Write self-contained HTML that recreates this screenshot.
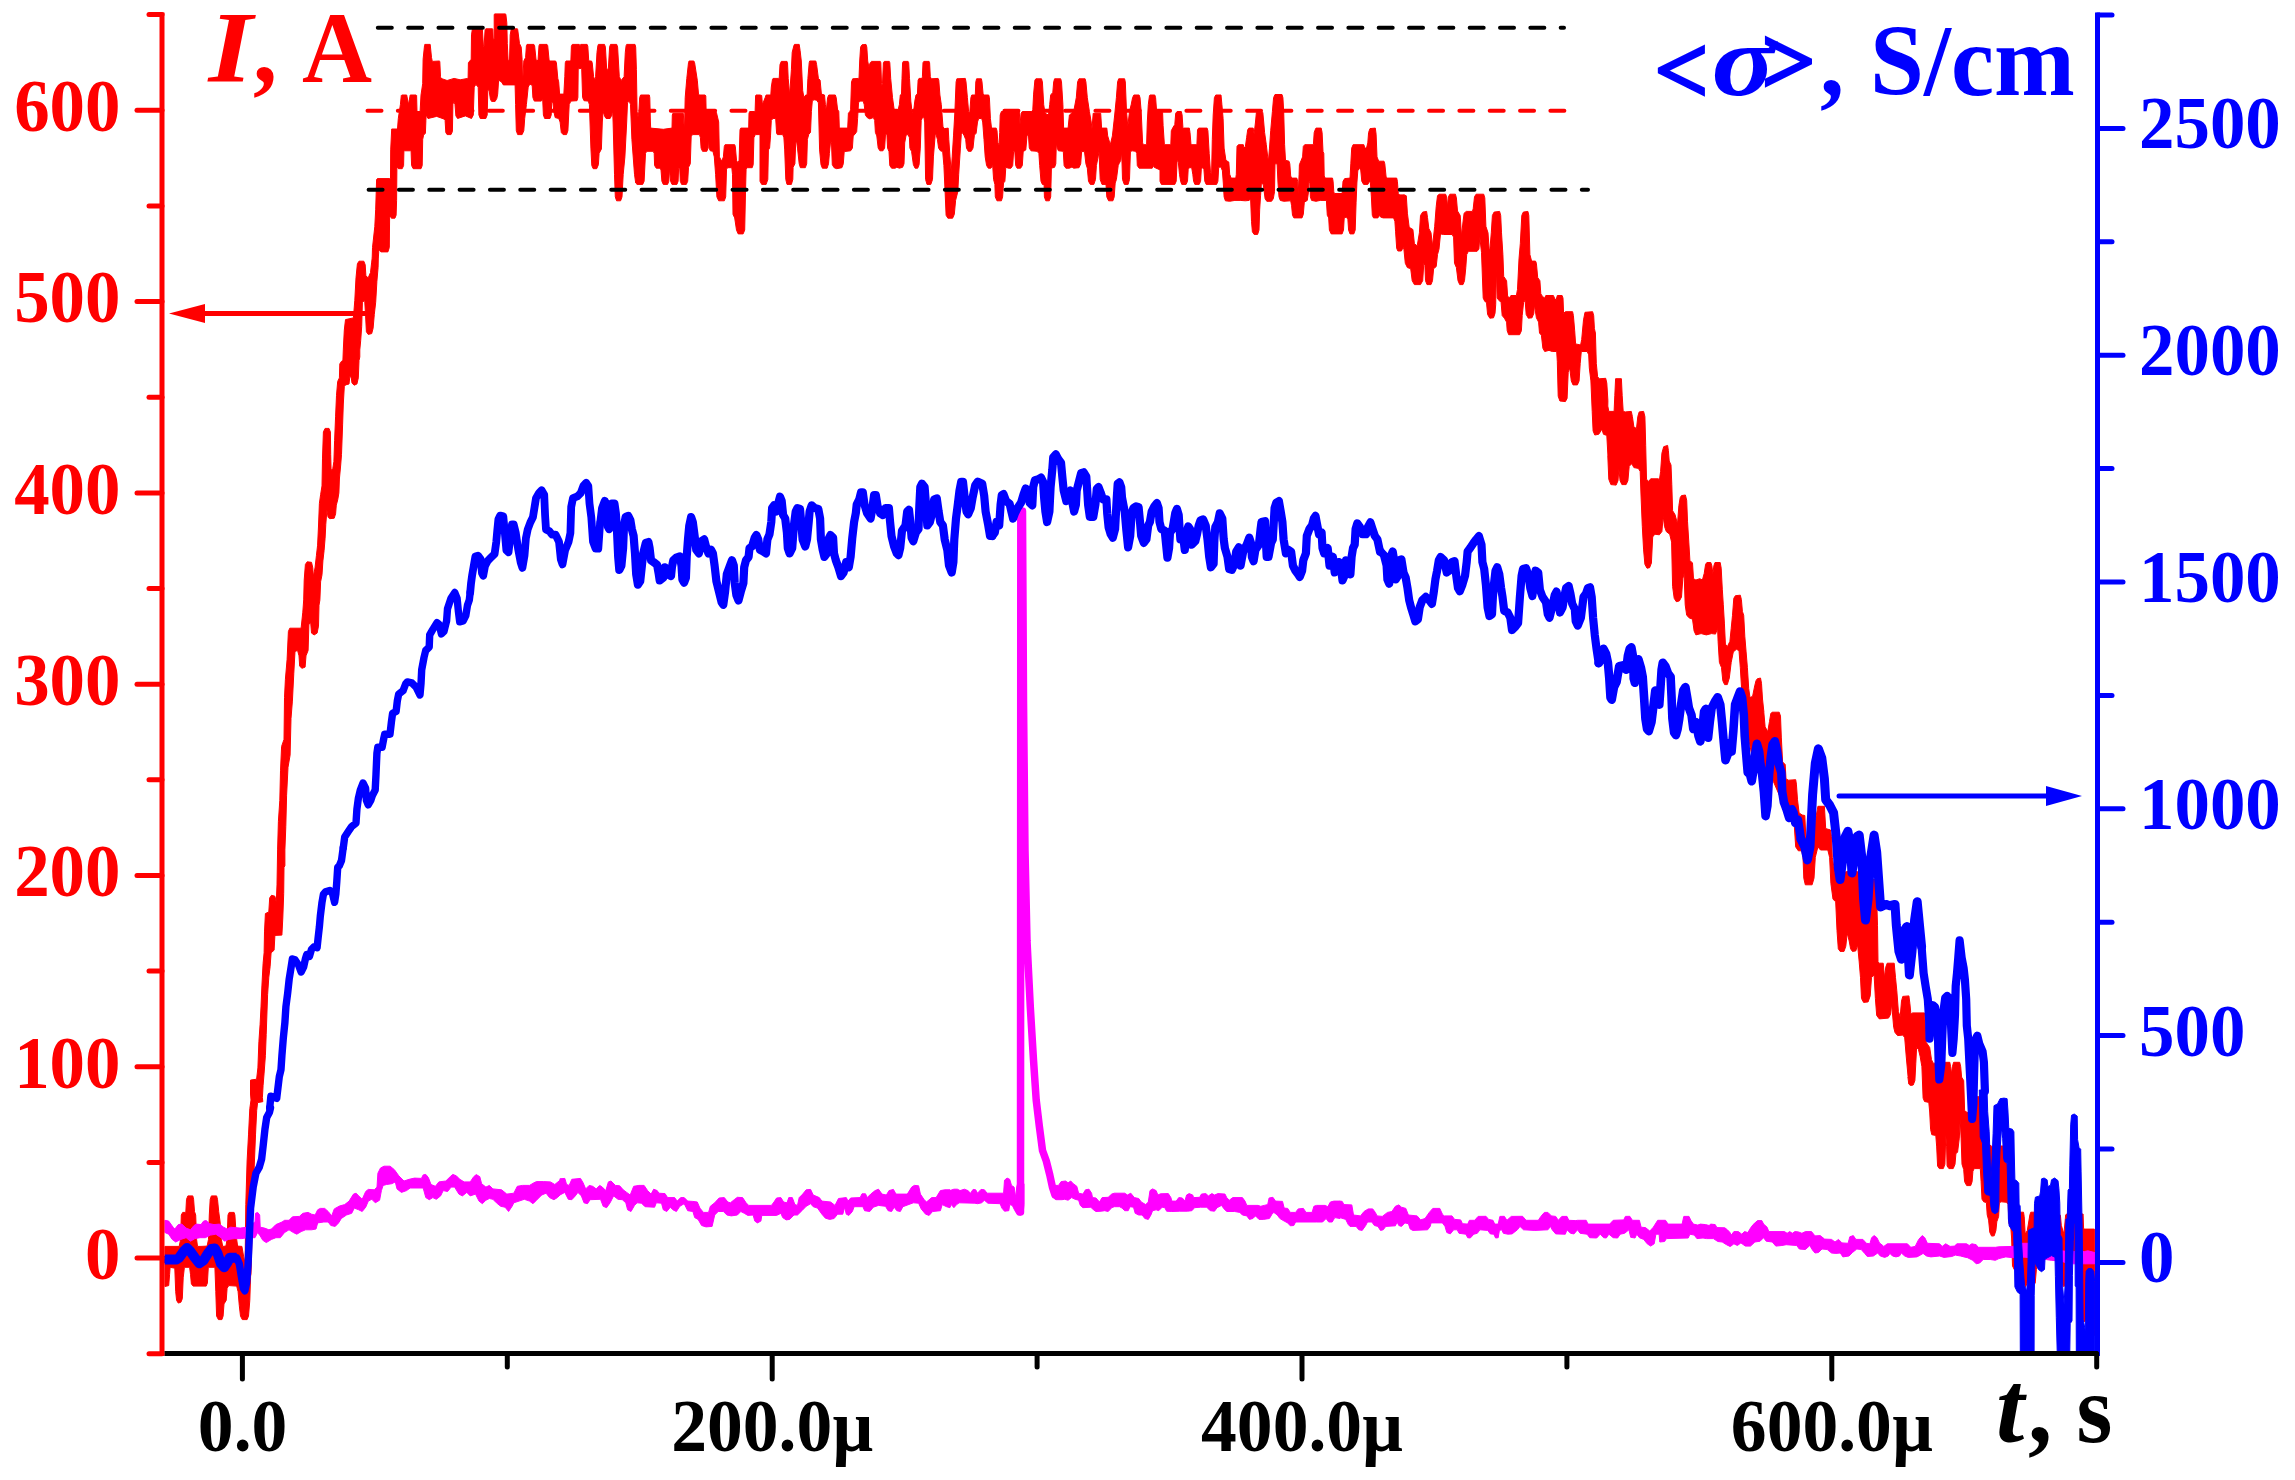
<!DOCTYPE html>
<html><head><meta charset="utf-8"><title>I, A and conductivity vs t</title>
<style>
html,body{margin:0;padding:0;background:#fff;}
svg{display:block}
text{font-family:"Liberation Serif",serif;font-weight:bold;}
.tl{font-size:69.5px}
.big{font-size:97px}
</style></head><body>
<svg width="2295" height="1480" viewBox="0 0 2295 1480">
<rect width="2295" height="1480" fill="#fff"/>
<!-- curves -->
<path d="M164.9 1246.4 L179.2 1246.4 L180.6 1239.4 L181.3 1215.0 L182.7 1212.4 L185.8 1212.4 L186.5 1199.3 L187.9 1195.9 L192.8 1195.9 L193.6 1199.3 L194.5 1211.5 L195.7 1215.0 L196.6 1239.4 L197.5 1246.4 L201.0 1246.4 L207.1 1246.1 L208.5 1239.4 L209.3 1215.0 L210.2 1199.3 L211.4 1195.9 L216.6 1195.9 L217.5 1199.3 L218.7 1211.5 L220.1 1222.0 L221.4 1239.4 L222.7 1246.4 L225.9 1246.1 L227.1 1239.4 L228.0 1215.0 L229.2 1212.4 L234.1 1212.4 L234.9 1215.0 L235.8 1229.0 L236.7 1239.4 L237.6 1246.1 L241.9 1246.4 L243.7 1256.9 L245.1 1263.8 L245.8 1204.6 L247.1 1161.0 L248.5 1134.9 L249.8 1108.7 L251.0 1100.0 L250.5 1094.0 L250.5 1080.1 L256.6 1079.2 L257.9 1067.9 L258.9 1041.7 L260.1 1024.3 L261.0 1006.9 L261.9 985.9 L263.1 963.3 L264.1 952.8 L264.5 931.9 L265.4 913.6 L268.8 911.9 L269.7 897.9 L271.5 895.3 L274.9 896.2 L276.3 902.3 L277.0 884.9 L277.6 850.0 L277.6 849.9 L278.4 821.4 L279.8 800.4 L280.5 770.8 L281.6 746.4 L284.0 739.4 L284.5 697.6 L285.4 679.3 L287.1 659.3 L288.4 631.4 L289.8 628.2 L301.1 628.2 L302.8 612.2 L303.7 600.0 L303.7 599.9 L304.2 580.1 L305.4 564.4 L307.2 561.8 L311.5 562.3 L312.8 567.9 L313.3 576.6 L315.0 567.9 L316.4 555.7 L317.6 545.2 L318.5 526.0 L319.4 503.4 L320.6 494.7 L322.0 485.9 L322.5 458.1 L323.4 431.9 L325.1 428.4 L329.0 428.4 L330.4 431.9 L330.7 454.6 L331.1 470.3 L332.8 468.5 L333.9 461.5 L334.6 440.6 L335.6 416.2 L336.5 395.3 L337.7 381.4 L339.4 377.9 L339.8 363.9 L341.5 361.3 L342.9 360.5 L343.3 350.0 L343.3 349.9 L344.3 330.1 L345.5 319.6 L353.4 317.9 L354.8 300.4 L356.0 277.8 L357.4 263.8 L359.0 261.2 L363.8 261.2 L365.2 264.7 L365.9 276.0 L368.2 277.8 L370.5 272.5 L371.7 262.1 L372.2 257.9 L372.2 258.0 L372.5 247.5 L374.8 226.6 L375.7 209.2 L376.6 179.5 L377.4 178.6 L389.6 178.6 L390.5 178.6 L390.7 149.9 L391.7 129.0 L397.5 129.0 L398.3 118.5 L400.4 104.6 L401.3 95.5 L401.8 95.0 L406.7 95.0 L408.5 104.6 L410.2 95.0 L416.1 95.0 L416.6 95.5 L417.0 111.5 L420.1 111.5 L421.0 95.0 L422.7 83.7 L423.1 59.3 L424.5 45.7 L424.8 44.4 L430.2 44.4 L431.5 57.5 L432.3 61.4 L439.3 61.0 L439.8 61.4 L440.5 76.7 L441.0 78.4 L447.1 80.5 L454.1 78.4 L460.2 79.8 L467.7 78.4 L468.1 78.1 L468.4 62.7 L469.8 61.0 L471.2 59.3 L471.5 34.9 L472.4 28.8 L482.0 28.8 L482.4 29.6 L483.4 46.2 L484.1 46.2 L485.1 29.6 L485.8 28.8 L492.5 28.8 L492.8 29.3 L493.2 39.2 L494.2 38.7 L494.2 14.8 L494.6 13.9 L505.5 13.9 L505.9 14.8 L506.8 22.7 L507.3 43.6 L508.1 60.1 L509.5 61.0 L510.2 34.9 L511.3 28.8 L517.4 28.8 L517.7 29.6 L519.5 43.6 L521.2 47.1 L522.1 59.3 L522.6 83.7 L523.8 61.0 L525.6 57.5 L526.4 45.7 L527.0 44.4 L533.9 44.4 L534.6 45.7 L536.0 59.3 L537.3 61.0 L538.1 59.3 L539.0 45.7 L539.5 44.4 L547.0 44.4 L547.7 45.7 L549.1 60.1 L549.6 61.0 L555.6 61.0 L556.4 62.7 L557.8 78.4 L558.7 81.9 L559.6 94.1 L560.1 94.1 L563.6 94.1 L563.9 93.2 L564.8 76.7 L565.3 62.7 L566.0 61.0 L570.5 61.0 L570.9 60.1 L571.4 46.2 L572.3 44.4 L579.3 44.4 L580.0 45.7 L580.7 44.4 L587.1 44.4 L587.8 46.2 L588.7 60.1 L589.0 61.0 L591.5 61.0 L592.2 62.7 L593.6 76.7 L594.9 80.2 L595.6 76.7 L597.0 52.3 L597.9 45.7 L598.4 44.4 L604.5 44.4 L605.4 47.1 L606.6 68.0 L607.5 70.6 L608.4 68.0 L609.6 47.1 L610.5 44.4 L616.7 44.4 L617.6 47.1 L619.3 76.7 L621.1 80.5 L624.1 76.7 L625.3 52.3 L626.1 45.7 L626.7 44.4 L635.0 44.4 L635.7 47.1 L636.4 69.7 L637.1 111.5 L638.0 117.1 L638.9 111.5 L639.7 97.6 L640.6 95.0 L649.3 95.0 L649.8 97.6 L650.4 122.0 L650.7 128.1 L663.3 129.3 L672.0 128.1 L672.3 115.0 L672.9 113.3 L683.3 113.3 L684.2 128.1 L684.5 128.1 L685.2 97.6 L686.8 78.4 L688.5 62.7 L689.1 61.0 L693.8 61.0 L694.6 62.7 L697.3 80.2 L698.5 94.1 L699.0 95.0 L705.1 95.0 L705.8 95.9 L706.1 109.8 L706.5 111.5 L715.6 111.5 L716.4 112.4 L718.7 122.0 L719.4 156.9 L721.7 161.2 L723.4 156.9 L724.3 146.4 L725.1 144.7 L734.7 144.7 L735.3 146.4 L736.5 160.3 L737.9 163.0 L739.1 160.3 L740.0 129.8 L740.8 128.1 L748.3 128.1 L748.7 128.1 L749.0 113.3 L749.7 111.5 L754.8 111.5 L755.1 111.5 L755.6 95.9 L756.0 95.0 L760.0 95.0 L760.0 95.0 L761.7 95.5 L762.4 104.6 L765.2 97.6 L766.1 95.0 L770.8 95.0 L771.3 87.1 L772.5 79.3 L773.1 78.4 L778.3 78.4 L779.2 78.4 L780.0 64.5 L781.3 61.4 L787.0 61.4 L787.5 62.7 L788.2 78.4 L789.6 95.0 L791.4 69.7 L792.2 52.3 L794.0 45.3 L794.5 44.4 L799.2 44.4 L800.1 50.5 L801.3 61.0 L802.7 90.6 L803.9 97.6 L805.7 95.0 L807.1 95.0 L807.9 78.4 L809.2 62.7 L809.7 61.0 L815.8 61.0 L816.6 64.5 L818.4 78.4 L820.1 80.2 L821.4 94.1 L824.5 95.0 L825.4 104.6 L826.2 111.5 L827.6 97.6 L828.8 95.0 L835.3 95.0 L836.2 97.6 L837.6 109.8 L838.8 111.5 L839.3 128.1 L847.1 128.1 L847.7 128.1 L848.4 113.3 L849.8 111.5 L850.6 109.8 L851.5 81.9 L852.7 78.8 L858.5 78.4 L859.0 78.4 L859.7 61.0 L860.6 47.1 L862.0 44.8 L866.0 44.4 L866.8 47.1 L867.7 61.0 L868.9 67.1 L870.2 62.7 L871.5 61.4 L880.3 61.4 L880.8 62.7 L881.5 83.7 L882.0 85.4 L882.5 83.7 L883.4 62.7 L884.3 61.4 L889.3 61.4 L889.8 62.7 L890.7 78.4 L892.5 97.6 L894.2 109.8 L897.7 111.5 L899.4 104.6 L900.3 95.0 L901.5 94.1 L902.0 78.4 L902.6 62.7 L903.3 61.4 L908.1 61.4 L908.7 62.7 L909.5 78.4 L910.8 101.1 L912.0 111.5 L913.4 113.3 L914.8 101.1 L916.0 95.0 L917.4 94.1 L918.1 80.2 L919.0 78.4 L922.1 78.4 L922.4 76.7 L923.0 62.7 L923.8 61.4 L929.1 61.4 L929.6 62.7 L930.3 76.7 L931.2 78.8 L938.1 78.4 L938.8 80.2 L939.9 95.0 L941.3 104.6 L943.0 127.2 L944.7 128.6 L948.2 128.1 L948.8 139.4 L950.0 156.9 L951.2 171.7 L952.2 156.9 L953.5 135.9 L954.9 111.5 L956.1 81.9 L956.9 78.8 L965.3 78.4 L966.0 81.9 L967.4 97.6 L968.6 111.5 L969.7 113.3 L970.9 97.6 L971.8 95.0 L975.3 95.0 L975.8 81.9 L976.6 78.8 L981.4 78.8 L982.0 81.9 L983.1 94.1 L984.0 95.0 L988.7 95.0 L989.4 97.6 L990.4 118.5 L991.5 128.1 L996.2 128.1 L997.0 130.7 L997.9 142.9 L999.1 144.7 L999.7 132.5 L1000.2 115.0 L1001.4 111.5 L1019.3 111.5 L1020.0 124.6 L1021.1 113.3 L1022.3 111.5 L1031.9 111.5 L1032.8 109.8 L1033.6 94.1 L1034.9 80.2 L1035.9 78.8 L1041.5 78.8 L1042.4 81.9 L1043.7 104.6 L1045.0 113.3 L1048.5 115.0 L1049.7 104.6 L1050.7 95.0 L1052.8 92.4 L1053.7 81.9 L1054.6 78.8 L1060.7 78.8 L1061.5 81.9 L1062.9 104.6 L1063.6 128.1 L1068.1 128.1 L1069.4 115.0 L1073.7 111.5 L1076.3 97.6 L1077.6 81.9 L1079.0 78.8 L1085.1 78.8 L1085.9 81.9 L1087.3 97.6 L1089.4 111.5 L1091.2 122.0 L1092.0 129.0 L1093.2 113.3 L1100.7 113.3 L1101.6 128.1 L1106.8 128.1 L1107.7 135.9 L1110.3 144.7 L1112.4 135.9 L1114.7 115.0 L1116.4 97.6 L1117.6 81.9 L1118.7 78.8 L1124.6 78.8 L1125.3 81.9 L1126.5 111.5 L1127.8 126.4 L1129.5 111.5 L1131.2 104.6 L1132.6 97.6 L1133.9 95.0 L1139.1 95.0 L1140.0 97.6 L1141.2 111.5 L1142.6 142.9 L1143.4 144.7 L1146.6 144.7 L1147.3 122.0 L1148.3 104.6 L1149.5 95.5 L1150.1 95.0 L1154.8 95.0 L1155.6 97.6 L1156.5 109.8 L1160.0 110.7 L1160.0 111.5 L1162.6 112.4 L1163.1 125.5 L1164.4 144.7 L1170.8 144.7 L1171.3 130.7 L1173.1 127.2 L1174.8 124.6 L1175.7 113.3 L1177.1 111.5 L1181.3 111.5 L1182.1 115.0 L1183.0 129.0 L1183.5 128.1 L1189.3 128.1 L1190.0 132.5 L1191.0 144.7 L1196.9 144.7 L1197.5 129.8 L1198.7 128.1 L1207.1 128.1 L1207.9 130.7 L1209.2 153.4 L1210.5 172.5 L1211.6 173.4 L1212.3 139.4 L1213.2 115.0 L1214.4 97.6 L1215.8 95.0 L1221.0 95.0 L1221.9 104.6 L1223.1 118.5 L1224.1 148.1 L1225.9 160.3 L1228.8 162.1 L1229.7 174.3 L1231.1 178.1 L1235.8 178.1 L1236.3 174.3 L1237.0 146.4 L1238.4 144.7 L1243.3 144.7 L1244.0 148.1 L1245.4 146.4 L1246.6 137.7 L1247.7 129.8 L1248.9 128.1 L1253.2 128.1 L1254.1 134.2 L1255.5 122.0 L1256.4 112.4 L1262.8 112.4 L1263.7 122.0 L1264.6 132.5 L1266.3 144.7 L1267.7 156.9 L1268.4 161.2 L1269.5 148.1 L1270.7 130.7 L1272.4 111.5 L1273.6 97.6 L1275.0 94.5 L1282.0 94.5 L1282.9 97.6 L1283.7 111.5 L1284.6 144.7 L1285.5 160.3 L1289.0 161.2 L1289.8 163.8 L1290.7 176.0 L1291.6 178.1 L1296.8 178.1 L1297.7 181.3 L1298.2 194.3 L1299.1 174.3 L1299.4 164.7 L1301.2 160.3 L1302.6 156.9 L1303.3 146.4 L1304.7 144.7 L1313.4 144.7 L1314.2 132.5 L1315.5 129.0 L1316.0 128.1 L1321.2 128.1 L1322.1 132.5 L1323.0 151.6 L1323.8 153.4 L1324.2 176.0 L1325.2 178.1 L1332.5 178.1 L1333.1 181.3 L1333.8 191.7 L1334.3 193.5 L1342.1 193.5 L1343.0 181.3 L1344.7 178.6 L1350.0 178.1 L1350.8 163.8 L1351.7 148.1 L1353.1 144.7 L1363.9 144.7 L1364.8 148.1 L1366.5 148.1 L1367.8 142.9 L1368.6 132.5 L1370.0 128.6 L1375.3 128.1 L1376.1 134.2 L1377.0 156.9 L1378.7 161.2 L1384.0 161.2 L1384.8 163.8 L1386.1 176.9 L1387.5 178.1 L1396.7 178.1 L1397.4 181.3 L1398.3 193.5 L1399.7 194.9 L1404.0 194.9 L1403.9 194.7 L1406.3 195.8 L1407.4 213.2 L1409.2 227.3 L1412.9 229.5 L1414.4 243.7 L1417.2 245.9 L1419.4 232.8 L1420.5 215.4 L1422.7 212.1 L1426.6 211.4 L1427.5 217.5 L1428.8 228.4 L1431.0 232.8 L1432.5 245.9 L1434.7 226.3 L1436.2 206.6 L1437.5 195.8 L1439.0 194.2 L1445.6 194.2 L1446.6 196.8 L1447.5 206.6 L1448.4 196.8 L1449.9 194.2 L1455.4 194.2 L1456.4 197.9 L1457.5 211.0 L1460.2 215.4 L1461.5 236.1 L1463.0 221.9 L1464.1 213.2 L1466.3 211.4 L1472.4 211.4 L1473.2 208.8 L1474.5 196.8 L1476.1 194.2 L1483.7 194.2 L1484.8 197.9 L1485.9 226.3 L1488.0 232.8 L1489.1 249.1 L1489.8 250.2 L1491.3 232.8 L1492.4 215.4 L1494.1 212.1 L1499.6 211.4 L1500.7 215.4 L1501.5 232.8 L1502.9 254.6 L1503.7 276.4 L1506.6 280.7 L1507.6 296.0 L1509.4 298.1 L1510.9 295.5 L1516.4 295.5 L1517.5 289.4 L1519.0 258.9 L1520.3 243.7 L1521.8 215.4 L1523.3 212.1 L1527.9 211.4 L1528.8 215.4 L1529.9 254.6 L1531.6 261.1 L1535.5 261.1 L1536.4 263.3 L1537.7 277.5 L1539.9 280.7 L1540.8 293.8 L1542.5 296.4 L1544.7 298.1 L1545.8 295.5 L1553.4 295.5 L1554.5 298.1 L1556.0 300.3 L1557.3 295.5 L1562.1 295.5 L1563.0 298.1 L1563.6 313.4 L1565.4 311.7 L1572.6 311.7 L1573.4 315.6 L1574.7 330.8 L1575.6 343.9 L1580.6 345.0 L1581.7 339.5 L1583.5 319.9 L1585.0 312.3 L1592.6 311.7 L1593.7 315.6 L1594.4 328.6 L1595.4 333.0 L1596.3 363.5 L1597.6 376.6 L1599.2 378.8 L1605.7 378.3 L1606.8 383.1 L1607.9 400.5 L1607.8 406.1 L1608.8 411.4 L1614.1 411.4 L1614.8 395.7 L1615.6 378.7 L1621.4 378.7 L1622.2 395.7 L1623.2 411.4 L1625.3 411.9 L1631.3 411.4 L1632.4 416.6 L1633.9 427.1 L1636.5 428.4 L1637.8 416.6 L1639.2 411.9 L1643.6 411.4 L1644.9 416.6 L1645.7 445.4 L1646.5 479.3 L1648.8 481.4 L1650.7 478.8 L1658.5 478.8 L1659.3 480.7 L1660.6 471.5 L1661.9 453.2 L1663.7 446.7 L1667.6 445.4 L1668.4 450.6 L1669.2 461.0 L1671.0 465.0 L1671.8 484.6 L1672.6 510.7 L1675.0 514.6 L1676.8 521.2 L1677.6 522.5 L1678.9 505.5 L1680.2 497.6 L1681.5 495.6 L1685.4 495.0 L1686.7 500.3 L1687.5 521.2 L1688.8 542.1 L1689.9 560.4 L1692.5 563.0 L1693.5 578.7 L1695.9 580.0 L1699.8 578.7 L1702.4 580.0 L1704.2 573.5 L1705.6 564.3 L1706.9 562.5 L1710.8 562.5 L1711.8 565.6 L1712.9 573.5 L1713.9 565.6 L1715.0 562.5 L1720.2 562.5 L1721.2 568.2 L1722.3 589.2 L1723.3 604.8 L1724.4 623.1 L1725.4 644.1 L1727.3 646.7 L1729.9 641.4 L1731.2 628.4 L1732.5 615.3 L1733.8 598.3 L1735.4 595.7 L1740.3 595.2 L1741.4 599.6 L1742.4 611.4 L1743.7 615.3 L1744.8 636.2 L1746.1 651.9 L1747.4 667.6 L1748.7 688.5 L1750.0 697.6 L1752.6 696.3 L1754.7 685.9 L1756.0 680.7 L1757.3 678.8 L1760.5 678.0 L1761.5 683.3 L1762.5 699.0 L1763.9 712.0 L1763.8 712.0 L1765.1 726.6 L1767.7 731.8 L1769.5 721.4 L1770.8 713.5 L1772.1 712.2 L1779.2 712.2 L1780.5 716.1 L1781.3 737.1 L1782.6 761.9 L1785.2 764.5 L1786.0 778.9 L1788.6 780.2 L1795.7 779.7 L1796.4 784.1 L1797.5 799.8 L1799.1 812.9 L1802.2 815.0 L1804.8 815.5 L1805.8 836.4 L1807.4 846.9 L1812.6 846.9 L1815.3 820.7 L1817.9 806.3 L1824.4 806.3 L1825.7 828.6 L1830.4 829.9 L1831.5 836.4 L1832.3 857.3 L1834.9 873.0 L1841.4 873.0 L1851.9 870.4 L1862.3 873.0 L1867.5 880.8 L1870.7 879.5 L1875.4 879.5 L1876.7 899.2 L1877.5 925.3 L1878.0 961.9 L1879.3 963.2 L1883.2 963.2 L1884.5 977.6 L1885.8 967.1 L1887.2 963.2 L1894.2 963.2 L1895.5 977.6 L1896.8 990.7 L1898.4 1011.6 L1900.2 1016.8 L1901.5 1001.1 L1902.8 996.4 L1908.9 995.9 L1909.9 1003.7 L1910.9 1014.2 L1912.5 1012.9 L1924.5 1012.9 L1925.6 1029.9 L1925.5 1029.9 L1926.2 1042.3 L1929.7 1047.5 L1931.5 1059.7 L1933.2 1063.2 L1943.7 1063.2 L1944.5 1062.3 L1949.8 1062.3 L1950.6 1066.7 L1951.5 1073.7 L1952.4 1066.7 L1953.6 1062.3 L1959.7 1062.3 L1960.7 1066.7 L1961.6 1077.1 L1963.7 1080.6 L1964.6 1110.3 L1966.3 1112.0 L1968.9 1112.9 L1973.3 1112.0 L1975.0 1103.3 L1977.1 1096.7 L1980.3 1096.7 L1980.8 1112.0 L1981.5 1138.1 L1982.9 1139.9 L1992.5 1146.9 L1999.4 1146.9 L2000.3 1146.0 L2003.3 1146.0 L2004.1 1153.8 L2005.5 1162.5 L2007.3 1164.3 L2008.1 1181.7 L2009.9 1199.2 L2016.9 1213.1 L2020.3 1212.2 L2023.5 1212.2 L2024.2 1216.6 L2025.2 1234.0 L2027.3 1230.5 L2029.9 1214.8 L2030.8 1212.2 L2034.3 1212.2 L2036.0 1214.8 L2058.7 1214.8 L2060.4 1215.2 L2061.3 1225.3 L2063.9 1234.0 L2065.7 1214.8 L2068.3 1213.1 L2069.2 1216.6 L2079.6 1216.6 L2080.5 1214.0 L2083.1 1214.0 L2083.6 1228.8 L2084.8 1229.1 L2094.4 1229.1 L2094.4 1335.6 L2093.6 1335.6 L2091.8 1330.4 L2090.1 1286.8 L2088.3 1269.4 L2086.9 1286.8 L2086.2 1318.2 L2084.5 1321.7 L2082.7 1318.2 L2081.4 1286.8 L2079.6 1258.9 L2069.2 1258.9 L2066.5 1262.4 L2065.7 1283.3 L2063.9 1286.8 L2062.2 1283.3 L2060.4 1262.4 L2051.7 1258.9 L2037.8 1258.9 L2036.4 1269.4 L2035.2 1283.3 L2033.4 1281.6 L2031.7 1265.9 L2028.2 1265.9 L2027.0 1283.3 L2025.6 1286.8 L2023.8 1283.3 L2022.1 1252.0 L2016.9 1252.0 L2016.0 1265.9 L2014.2 1269.4 L2012.5 1265.9 L2011.6 1238.0 L2010.8 1227.0 L2009.0 1223.6 L2008.1 1204.4 L2006.4 1202.3 L2001.5 1201.8 L1999.4 1202.6 L1998.6 1216.6 L1996.8 1221.8 L1995.9 1230.5 L1994.2 1235.8 L1991.6 1236.1 L1989.8 1232.3 L1988.6 1220.1 L1987.2 1214.8 L1986.4 1202.6 L1983.7 1201.8 L1982.0 1199.2 L1981.1 1181.7 L1980.3 1168.6 L1974.2 1168.6 L1972.9 1171.3 L1972.1 1181.7 L1970.7 1185.6 L1966.7 1185.6 L1964.6 1181.7 L1963.7 1169.5 L1962.0 1164.3 L1961.1 1138.1 L1960.2 1119.0 L1959.3 1138.1 L1957.6 1152.1 L1955.9 1153.8 L1955.0 1164.3 L1953.2 1168.6 L1948.9 1168.6 L1947.1 1166.0 L1946.6 1146.9 L1945.8 1134.7 L1944.9 1164.3 L1943.3 1168.6 L1939.3 1168.6 L1937.6 1166.0 L1936.7 1146.9 L1935.8 1135.5 L1931.8 1134.7 L1930.6 1129.4 L1929.7 1112.0 L1928.8 1102.4 L1924.5 1101.5 L1923.1 1098.1 L1921.9 1066.7 L1920.1 1056.2 L1918.4 1049.3 L1916.6 1047.5 L1915.8 1063.2 L1914.9 1080.6 L1913.2 1085.0 L1910.5 1085.5 L1908.8 1084.1 L1907.9 1077.0 L1908.1 1076.9 L1906.2 1056.0 L1904.7 1037.7 L1902.8 1035.1 L1897.6 1035.6 L1895.0 1032.5 L1893.7 1027.3 L1891.6 1003.7 L1890.6 1014.2 L1888.5 1018.1 L1879.3 1018.9 L1876.7 1015.5 L1875.4 998.5 L1874.1 975.0 L1871.5 977.6 L1870.2 995.9 L1868.1 1001.9 L1863.6 1002.4 L1861.5 998.5 L1860.5 977.6 L1859.2 961.9 L1857.6 944.9 L1855.8 950.9 L1852.4 951.4 L1850.6 948.8 L1849.2 941.0 L1847.2 933.1 L1845.8 946.2 L1844.0 951.4 L1840.1 951.4 L1838.3 948.8 L1837.0 930.5 L1835.7 901.8 L1833.0 899.2 L1830.9 883.5 L1829.6 857.3 L1827.8 850.0 L1820.5 850.0 L1817.9 846.9 L1815.3 857.3 L1814.0 878.2 L1812.1 884.8 L1805.3 884.8 L1803.8 878.2 L1803.0 857.3 L1801.7 850.8 L1798.3 850.8 L1795.7 846.9 L1794.3 825.9 L1791.7 818.1 L1787.0 816.8 L1785.2 815.5 L1781.3 799.8 L1773.4 781.5 L1766.9 776.3 L1763.0 768.4 L1755.9 766.9 L1756.0 766.9 L1752.1 756.5 L1750.0 746.0 L1748.2 735.6 L1746.1 719.9 L1744.2 706.8 L1741.6 688.5 L1740.3 667.6 L1739.0 650.6 L1736.4 649.3 L1733.3 651.9 L1731.2 662.4 L1729.3 678.0 L1727.3 684.6 L1724.6 684.6 L1722.8 680.7 L1721.5 667.6 L1719.4 662.4 L1718.1 641.4 L1717.6 628.4 L1715.5 634.1 L1711.6 633.6 L1706.3 634.9 L1701.1 633.6 L1695.9 634.9 L1694.1 631.0 L1692.5 619.2 L1689.3 617.9 L1686.7 615.3 L1685.2 604.8 L1684.1 573.5 L1682.8 578.7 L1681.5 597.0 L1679.4 600.9 L1676.3 601.7 L1674.2 598.3 L1672.6 586.5 L1671.6 542.1 L1669.7 534.2 L1666.3 531.6 L1664.5 526.4 L1663.2 515.9 L1661.9 531.6 L1659.3 534.8 L1654.8 534.2 L1652.7 536.9 L1651.4 563.0 L1649.6 567.7 L1647.0 568.2 L1644.9 564.3 L1643.6 549.9 L1642.3 526.4 L1641.0 495.0 L1640.2 471.5 L1638.4 468.4 L1633.9 467.6 L1631.8 463.7 L1629.2 466.3 L1627.9 480.7 L1626.1 484.6 L1621.9 484.6 L1620.1 480.7 L1618.8 468.9 L1618.0 480.7 L1616.1 485.1 L1610.9 484.6 L1608.8 479.3 L1607.8 455.8 L1607.9 455.0 L1606.8 435.4 L1603.5 434.3 L1601.8 428.9 L1600.9 431.0 L1598.7 434.3 L1594.8 435.0 L1593.1 431.0 L1592.2 411.4 L1590.9 380.9 L1589.3 367.9 L1588.7 354.8 L1587.2 351.5 L1581.3 351.5 L1580.2 363.5 L1579.1 380.9 L1577.4 384.9 L1573.0 384.9 L1571.3 380.9 L1569.7 367.9 L1568.2 372.2 L1567.1 398.4 L1565.4 401.6 L1559.9 401.0 L1558.2 396.2 L1557.3 361.3 L1556.7 351.5 L1552.3 351.5 L1549.0 350.4 L1544.7 351.5 L1542.9 348.3 L1541.4 335.2 L1539.5 333.0 L1538.6 322.1 L1536.4 317.8 L1534.4 304.7 L1533.8 313.4 L1532.0 317.8 L1528.3 318.2 L1526.2 314.5 L1525.1 300.3 L1523.6 302.5 L1522.2 315.6 L1521.4 330.8 L1519.6 334.7 L1508.7 334.7 L1507.2 330.8 L1506.6 322.1 L1504.4 318.2 L1502.2 315.6 L1501.1 302.5 L1498.9 300.3 L1497.2 298.1 L1496.3 267.6 L1495.7 304.7 L1495.0 313.4 L1493.5 317.8 L1489.8 318.2 L1487.6 314.5 L1486.5 302.5 L1484.8 301.4 L1483.2 298.1 L1481.5 252.4 L1479.8 237.1 L1478.9 249.1 L1477.1 251.3 L1468.4 251.3 L1466.7 254.6 L1465.8 267.6 L1464.5 280.7 L1463.0 284.6 L1459.7 284.6 L1458.0 280.7 L1456.4 267.6 L1454.5 263.3 L1453.6 237.1 L1452.1 234.5 L1443.4 234.5 L1440.5 233.9 L1439.0 249.1 L1437.5 254.6 L1436.2 266.6 L1433.6 268.7 L1432.5 280.7 L1431.0 284.6 L1427.0 284.6 L1425.5 280.7 L1424.9 265.5 L1423.8 263.3 L1422.7 280.7 L1420.5 284.6 L1414.4 284.6 L1412.2 280.7 L1410.7 268.7 L1407.4 267.6 L1405.3 263.3 L1403.9 249.1 L1404.0 249.2 L1403.1 247.5 L1401.4 251.0 L1397.9 251.0 L1396.7 248.4 L1395.6 231.8 L1394.9 221.4 L1393.6 217.9 L1383.1 217.9 L1380.5 217.0 L1379.3 215.3 L1377.9 217.9 L1373.5 217.9 L1372.3 215.3 L1371.4 196.9 L1370.4 183.0 L1369.5 181.3 L1367.8 184.4 L1363.6 184.4 L1361.8 181.3 L1360.8 170.8 L1359.6 167.7 L1357.8 170.8 L1356.9 183.0 L1356.1 202.2 L1355.2 230.1 L1353.8 233.9 L1350.0 233.9 L1348.6 230.1 L1347.9 219.6 L1346.5 217.0 L1344.2 217.9 L1343.5 230.1 L1342.1 233.9 L1331.2 233.9 L1329.4 230.1 L1328.7 217.9 L1327.3 215.3 L1326.4 200.4 L1320.3 200.4 L1316.0 201.3 L1311.6 200.4 L1310.4 196.9 L1309.9 183.0 L1309.0 181.3 L1308.5 191.7 L1307.3 200.4 L1304.3 202.2 L1303.3 214.4 L1302.0 217.9 L1293.9 217.9 L1292.5 215.3 L1291.6 205.7 L1290.7 200.8 L1283.7 201.3 L1280.3 200.4 L1279.0 196.9 L1278.0 183.0 L1277.1 163.8 L1275.0 163.8 L1274.5 191.7 L1273.3 198.7 L1271.5 201.3 L1266.8 201.3 L1265.1 198.7 L1264.2 191.7 L1263.2 184.4 L1261.4 183.0 L1260.6 195.2 L1259.7 209.2 L1259.0 230.1 L1257.6 234.4 L1254.1 234.4 L1252.4 231.8 L1251.5 221.4 L1250.6 198.7 L1249.2 200.4 L1245.4 200.8 L1240.2 200.4 L1234.9 200.4 L1229.7 201.3 L1225.4 200.8 L1224.1 196.9 L1223.3 183.0 L1222.4 170.8 L1221.0 167.0 L1218.7 167.3 L1217.9 181.3 L1216.6 184.4 L1206.2 184.4 L1204.8 181.3 L1203.9 169.1 L1202.7 167.7 L1201.3 169.1 L1200.6 181.3 L1199.2 184.4 L1194.9 184.4 L1193.6 181.3 L1192.8 174.3 L1191.7 167.7 L1189.6 167.7 L1188.2 169.1 L1187.5 181.3 L1186.1 184.4 L1181.8 184.4 L1180.6 181.3 L1179.5 174.3 L1178.3 162.1 L1177.1 160.3 L1176.2 181.3 L1174.8 184.4 L1161.4 184.4 L1160.0 181.3 L1160.0 169.9 L1154.2 167.3 L1153.6 165.6 L1152.2 168.2 L1139.1 168.2 L1137.3 165.6 L1136.8 153.4 L1135.6 151.3 L1132.1 150.8 L1130.4 151.6 L1129.5 179.5 L1128.1 184.4 L1124.3 184.4 L1122.5 179.5 L1121.7 151.6 L1120.8 160.3 L1119.0 163.8 L1118.2 165.6 L1116.4 179.5 L1115.2 183.0 L1114.2 196.9 L1112.9 200.8 L1108.6 200.8 L1106.8 196.9 L1106.0 184.4 L1102.0 184.4 L1100.2 179.5 L1099.0 151.6 L1098.1 156.9 L1096.4 165.6 L1095.5 179.5 L1093.8 184.4 L1090.3 184.4 L1088.5 181.3 L1087.3 168.2 L1085.9 163.8 L1084.5 151.6 L1081.6 151.6 L1080.7 163.8 L1079.0 167.7 L1073.7 168.2 L1072.0 167.0 L1069.4 168.2 L1065.9 168.2 L1064.1 165.6 L1063.3 151.3 L1058.4 150.8 L1057.2 148.1 L1056.3 142.9 L1055.8 163.8 L1054.6 167.3 L1051.4 168.2 L1050.7 196.9 L1049.3 200.8 L1045.8 200.8 L1044.4 196.9 L1044.1 184.7 L1042.4 184.4 L1041.0 181.3 L1039.7 165.6 L1038.9 153.4 L1037.1 151.3 L1031.0 150.8 L1029.3 148.1 L1028.4 134.2 L1027.0 135.9 L1025.8 149.9 L1023.2 151.6 L1022.3 165.6 L1020.6 168.2 L1017.1 168.2 L1015.7 165.6 L1014.8 151.6 L1013.6 151.6 L1012.7 165.6 L1011.0 168.2 L1008.4 168.2 L1005.8 167.3 L1004.9 181.3 L1003.5 183.0 L1002.6 196.9 L1001.4 200.8 L997.0 200.8 L995.3 196.9 L994.9 184.4 L993.6 179.5 L992.7 165.6 L990.9 168.2 L988.3 168.2 L986.6 165.6 L985.2 156.9 L984.0 139.4 L982.7 122.0 L981.7 118.5 L978.7 118.5 L977.5 122.0 L976.1 133.3 L974.4 135.1 L973.0 148.1 L971.2 151.3 L968.3 151.3 L966.5 148.1 L965.7 139.4 L963.9 135.1 L962.2 132.5 L961.3 134.2 L960.4 148.1 L958.7 174.3 L957.8 191.7 L955.6 200.4 L954.3 214.4 L952.6 218.2 L947.9 218.2 L946.1 215.3 L945.1 191.7 L943.9 165.6 L942.7 151.6 L940.4 150.8 L938.6 148.1 L937.4 139.4 L936.0 134.2 L935.2 135.1 L933.4 156.9 L932.5 179.5 L930.8 184.4 L927.0 184.4 L925.6 179.5 L924.7 122.0 L923.8 116.8 L922.1 118.5 L921.2 120.3 L920.3 148.1 L919.1 164.7 L917.7 168.2 L915.1 168.2 L913.4 164.7 L911.6 151.6 L909.9 148.1 L909.4 137.7 L908.1 134.6 L906.1 135.1 L904.7 142.9 L904.0 163.8 L902.6 167.3 L899.4 168.2 L896.8 167.3 L895.1 168.2 L891.6 168.2 L889.8 165.6 L889.0 151.6 L887.6 148.1 L886.9 134.2 L885.5 134.2 L884.6 148.1 L882.9 150.8 L879.9 150.8 L878.2 148.1 L876.8 135.9 L875.4 132.5 L874.7 120.3 L873.3 117.6 L869.8 118.9 L867.2 117.6 L865.4 115.0 L864.2 104.6 L863.2 101.1 L860.2 101.1 L858.5 102.8 L857.6 118.5 L856.7 131.6 L855.0 134.2 L853.2 135.9 L852.4 148.1 L850.6 150.8 L844.2 151.6 L843.3 163.8 L841.9 167.7 L836.7 168.7 L834.1 167.7 L832.3 164.7 L831.5 142.9 L830.6 141.2 L829.4 153.4 L828.5 163.8 L827.1 168.2 L822.4 168.2 L821.0 164.7 L819.6 149.9 L818.9 122.0 L818.4 102.8 L816.6 100.2 L814.0 99.7 L812.3 101.1 L811.4 111.5 L810.5 132.5 L808.8 134.2 L807.4 139.4 L806.7 163.8 L805.3 167.7 L800.4 167.7 L799.2 163.8 L797.5 148.1 L796.6 141.2 L795.7 142.9 L794.9 163.8 L793.1 167.3 L792.8 179.5 L791.4 184.4 L787.0 184.4 L785.8 179.5 L784.7 149.9 L783.9 137.7 L782.7 134.6 L777.4 134.6 L776.6 133.3 L775.7 118.5 L773.1 118.5 L771.3 120.3 L770.5 135.9 L769.6 148.1 L768.4 149.9 L767.8 179.5 L766.1 184.4 L761.7 184.4 L760.0 181.3 L760.0 134.6 L755.3 134.6 L753.9 137.7 L753.2 164.7 L752.2 167.7 L747.3 167.7 L746.1 169.1 L745.5 191.7 L744.7 230.1 L743.1 233.9 L738.2 233.9 L736.5 230.1 L734.7 217.9 L733.0 214.4 L732.5 174.3 L731.8 167.7 L727.8 167.7 L726.5 169.1 L725.7 196.9 L724.3 200.8 L718.7 200.8 L716.9 196.9 L715.6 174.3 L714.3 156.9 L712.9 151.3 L710.3 150.8 L709.1 148.1 L708.6 137.7 L708.1 148.1 L706.8 151.3 L702.5 151.3 L701.1 148.1 L700.4 137.7 L699.5 134.6 L692.9 134.6 L691.2 135.9 L690.3 163.8 L688.5 167.3 L687.7 181.3 L686.3 184.4 L681.6 184.4 L680.3 181.3 L679.7 168.2 L678.6 168.2 L678.1 181.3 L676.9 184.4 L672.0 184.4 L670.6 181.3 L669.5 168.2 L668.8 181.3 L667.6 184.4 L663.3 184.4 L661.9 181.3 L661.0 169.9 L659.8 168.2 L656.3 168.2 L654.6 165.6 L654.2 153.4 L653.2 151.3 L646.7 151.3 L645.5 153.4 L644.1 181.3 L642.7 184.4 L637.1 184.4 L635.7 183.0 L634.5 174.3 L631.9 139.4 L630.5 104.6 L629.3 101.1 L627.5 102.8 L626.7 122.0 L624.9 156.9 L623.2 174.3 L622.0 196.9 L620.6 200.8 L616.6 200.8 L615.3 196.9 L614.5 174.3 L613.1 122.0 L612.4 104.6 L611.9 115.0 L610.1 118.5 L606.1 118.5 L604.9 116.8 L603.1 111.5 L602.3 122.0 L601.4 149.0 L599.1 153.4 L598.4 164.7 L596.7 168.7 L593.2 168.7 L591.8 165.6 L590.9 148.1 L589.4 104.6 L588.3 101.1 L584.0 100.7 L582.6 97.6 L581.7 68.3 L578.2 68.8 L577.9 97.6 L577.0 100.7 L570.9 101.1 L569.2 104.6 L567.9 130.7 L566.5 134.6 L563.1 134.6 L561.3 132.5 L560.1 122.0 L558.7 118.5 L555.2 117.6 L553.8 111.5 L552.9 102.0 L551.7 102.8 L551.2 115.0 L550.0 118.5 L544.7 118.5 L543.4 115.0 L542.7 99.3 L541.3 101.1 L534.3 101.1 L532.9 97.6 L532.2 85.4 L529.9 84.0 L528.2 87.1 L526.4 104.6 L524.7 118.5 L523.8 130.7 L522.1 134.6 L517.7 134.6 L516.3 130.7 L515.6 104.6 L515.1 84.9 L503.3 84.9 L501.5 81.9 L498.6 80.2 L497.7 94.1 L496.8 98.5 L495.1 101.4 L491.6 101.4 L490.4 99.3 L489.0 89.8 L487.8 90.6 L487.2 115.0 L485.8 118.5 L480.3 118.5 L478.9 115.0 L478.2 87.1 L475.9 84.5 L474.2 87.1 L473.3 115.0 L471.5 118.5 L465.4 115.9 L457.6 118.5 L455.9 115.9 L455.0 104.6 L453.8 101.1 L452.9 104.6 L452.4 131.6 L451.0 134.6 L447.1 134.6 L445.8 132.5 L445.1 120.3 L443.7 118.9 L436.7 116.4 L428.0 118.5 L426.2 115.0 L425.9 120.3 L425.4 133.3 L423.6 135.1 L422.7 139.4 L422.2 165.6 L421.0 168.7 L413.2 168.7 L411.6 165.6 L411.1 151.6 L410.5 150.8 L404.4 150.8 L403.9 151.6 L403.6 165.6 L402.2 168.7 L398.3 168.7 L397.5 167.3 L396.9 168.2 L396.6 200.4 L396.1 215.3 L394.9 218.2 L391.4 218.2 L390.5 216.1 L389.6 217.9 L389.3 247.5 L387.9 251.9 L380.9 251.9 L379.5 250.1 L378.8 251.0 L378.3 258.0 L378.3 257.9 L378.1 267.3 L376.9 281.3 L375.7 302.2 L374.3 314.4 L373.1 328.3 L371.7 333.6 L368.2 334.4 L366.4 331.8 L365.6 316.1 L364.7 300.4 L362.4 302.2 L361.7 326.6 L360.7 340.5 L359.8 349.9 L359.8 350.0 L359.8 357.0 L359.0 360.5 L358.3 377.9 L356.9 384.0 L354.2 385.2 L352.0 383.1 L351.3 377.9 L349.9 376.1 L349.0 384.0 L345.5 384.9 L344.3 386.6 L343.3 404.0 L342.6 424.9 L341.5 454.6 L340.7 465.0 L339.4 479.0 L338.9 492.9 L337.7 499.9 L336.3 505.1 L335.6 513.8 L334.2 518.2 L329.8 518.7 L328.1 517.3 L326.9 510.3 L325.8 524.3 L325.1 538.2 L324.1 550.4 L322.9 560.9 L322.0 574.8 L320.6 581.8 L319.9 599.9 L319.9 600.0 L319.0 605.2 L318.5 626.1 L317.1 633.1 L314.2 634.9 L311.5 633.1 L310.7 622.7 L308.9 624.4 L308.1 650.5 L306.0 655.8 L305.1 667.1 L302.0 668.3 L299.7 666.2 L299.0 655.8 L297.6 650.5 L295.0 651.4 L293.8 673.2 L292.4 701.1 L291.0 718.5 L290.1 755.1 L288.0 767.3 L286.6 795.2 L285.8 826.6 L284.9 849.9 L284.9 850.0 L284.9 865.7 L284.0 867.4 L283.7 893.6 L282.8 918.0 L281.9 935.1 L274.9 935.4 L274.1 950.2 L271.1 952.8 L270.1 966.8 L268.8 977.2 L267.6 994.7 L266.2 1034.7 L265.4 1055.7 L264.1 1073.1 L263.1 1085.3 L262.4 1097.5 L262.8 1101.7 L257.6 1102.6 L256.7 1110.5 L255.5 1134.9 L254.1 1169.7 L252.4 1222.0 L251.0 1274.3 L250.6 1276.0 L249.8 1300.4 L248.5 1316.1 L247.1 1319.6 L242.3 1319.6 L240.5 1316.1 L239.3 1305.7 L238.1 1291.7 L236.7 1286.1 L228.8 1285.6 L227.1 1288.2 L226.2 1300.4 L224.0 1303.9 L223.1 1316.1 L221.9 1319.6 L218.4 1319.6 L216.6 1316.1 L215.8 1291.7 L214.9 1267.3 L208.3 1267.3 L207.4 1283.0 L206.2 1286.1 L193.1 1286.1 L191.4 1283.9 L190.5 1274.3 L189.6 1267.3 L184.4 1267.3 L183.2 1277.8 L182.3 1298.7 L180.9 1302.2 L178.3 1303.1 L176.6 1300.4 L175.7 1291.7 L174.8 1268.2 L170.1 1267.3 L169.6 1274.3 L168.7 1285.6 L164.9 1286.5Z" fill="#f00" stroke="#f00" stroke-width="1" stroke-linejoin="round"/>
<!-- dashed reference lines -->
<line x1="377.8" y1="27.8" x2="1564" y2="27.8" stroke="#000" stroke-width="4" stroke-dasharray="14 16.33" stroke-linecap="round"/>
<line x1="367.5" y1="110.8" x2="1566" y2="110.8" stroke="#f00" stroke-width="4" stroke-dasharray="14 16.33" stroke-linecap="round"/>
<line x1="368.6" y1="189.8" x2="1588" y2="189.8" stroke="#000" stroke-width="4" stroke-dasharray="14 16.33" stroke-linecap="round"/>
<path d="M164.9 1220.3 L168.7 1221.1 L173.1 1227.2 L174.8 1229.0 L178.3 1224.6 L181.8 1224.1 L186.1 1228.1 L190.5 1229.8 L194.0 1225.5 L196.6 1224.1 L201.0 1224.6 L203.6 1221.1 L206.2 1220.6 L209.7 1223.7 L214.0 1224.6 L219.3 1224.1 L223.6 1227.2 L227.1 1229.0 L230.6 1227.2 L234.9 1227.6 L240.2 1228.1 L247.1 1227.2 L255.0 1222.0 L255.5 1213.3 L257.6 1212.4 L259.7 1215.0 L260.2 1227.2 L264.6 1228.1 L268.9 1229.8 L271.5 1229.0 L275.9 1224.6 L282.0 1222.0 L284.6 1220.3 L289.0 1220.3 L292.5 1216.8 L299.4 1216.4 L302.9 1213.3 L308.1 1212.4 L311.6 1214.2 L315.1 1215.0 L317.7 1209.8 L320.3 1208.4 L324.7 1208.4 L328.2 1211.5 L331.7 1215.9 L334.3 1208.9 L339.5 1206.0 L344.7 1204.6 L349.1 1201.1 L353.5 1194.1 L356.1 1193.2 L358.7 1195.9 L362.2 1199.3 L365.7 1191.5 L368.3 1189.4 L374.4 1189.8 L377.0 1187.1 L377.9 1173.2 L380.5 1168.0 L384.0 1166.2 L390.1 1166.2 L394.4 1169.7 L398.8 1175.8 L404.0 1181.0 L409.2 1179.3 L414.5 1178.1 L421.4 1178.4 L423.2 1174.9 L425.8 1174.4 L428.4 1177.6 L431.0 1184.5 L435.4 1186.3 L438.9 1181.9 L445.8 1181.0 L450.2 1176.7 L452.8 1174.4 L456.3 1175.8 L459.8 1179.3 L464.1 1181.9 L470.2 1181.9 L473.7 1176.7 L476.3 1174.6 L479.8 1176.7 L481.6 1183.7 L485.9 1187.1 L489.4 1185.4 L492.9 1188.9 L501.6 1189.8 L506.8 1194.1 L513.8 1193.2 L517.3 1186.3 L522.5 1185.4 L529.5 1185.4 L533.9 1182.8 L536.5 1181.6 L543.4 1181.6 L550.4 1181.9 L554.8 1184.5 L560.0 1180.2 L559.9 1178.8 L564.8 1178.4 L566.6 1184.5 L569.2 1185.4 L571.8 1179.3 L580.5 1178.4 L583.1 1182.8 L585.7 1188.9 L589.2 1185.4 L592.7 1186.3 L596.2 1188.9 L599.7 1185.4 L602.3 1187.1 L605.8 1190.6 L608.4 1181.9 L611.0 1181.0 L615.4 1185.4 L619.7 1185.8 L623.2 1189.8 L626.7 1192.4 L630.2 1195.0 L633.7 1186.3 L638.9 1185.4 L644.1 1185.4 L647.6 1190.6 L651.1 1194.1 L653.7 1189.2 L657.2 1190.6 L658.9 1193.2 L665.0 1193.6 L667.6 1197.6 L674.6 1197.6 L677.2 1201.1 L680.7 1197.6 L684.2 1197.6 L687.7 1201.1 L692.9 1201.4 L697.3 1202.0 L699.9 1208.1 L703.4 1212.4 L708.6 1212.4 L710.3 1206.3 L714.7 1202.8 L719.1 1198.0 L724.3 1197.6 L727.8 1202.0 L730.4 1202.8 L734.7 1199.3 L737.4 1197.3 L742.6 1197.6 L746.1 1202.8 L748.7 1205.4 L771.4 1205.4 L774.0 1202.0 L776.6 1198.0 L780.9 1197.6 L783.6 1202.0 L787.0 1202.8 L788.8 1197.6 L792.3 1197.6 L794.9 1204.6 L797.5 1205.4 L799.2 1197.6 L802.7 1194.1 L806.2 1189.8 L810.6 1189.4 L813.2 1195.0 L819.3 1197.6 L821.9 1201.1 L830.6 1202.0 L835.0 1205.4 L838.5 1198.5 L846.3 1197.6 L848.0 1201.1 L850.7 1198.0 L860.2 1197.6 L862.0 1193.8 L865.5 1193.8 L867.2 1197.6 L870.7 1194.1 L875.1 1190.6 L878.5 1189.2 L882.0 1194.1 L886.4 1195.0 L889.0 1190.6 L893.4 1189.4 L896.0 1194.1 L907.3 1194.1 L911.7 1187.1 L914.3 1185.4 L918.6 1185.8 L920.4 1194.1 L923.9 1199.3 L926.5 1202.0 L931.7 1197.6 L936.1 1197.6 L940.4 1190.6 L944.8 1189.8 L950.0 1189.8 L949.9 1190.6 L953.9 1189.2 L957.4 1189.2 L960.0 1190.6 L964.4 1189.2 L967.9 1190.6 L970.5 1193.2 L973.1 1189.4 L975.7 1189.8 L977.5 1193.2 L981.0 1189.4 L984.4 1189.8 L987.1 1193.2 L1003.6 1193.2 L1004.5 1180.2 L1007.1 1178.1 L1009.7 1179.3 L1011.5 1185.4 L1014.1 1187.1 L1015.8 1197.6 L1016.7 1187.1 L1017.6 1183.7 L1024.0 1183.7 L1024.0 1204.6 L1023.3 1211.5 L1021.0 1215.0 L1017.6 1215.0 L1014.9 1210.7 L1012.3 1205.4 L1009.7 1204.6 L1008.8 1210.7 L1004.5 1211.2 L1001.9 1208.1 L1000.1 1203.7 L987.9 1203.2 L984.4 1200.2 L981.8 1202.8 L977.5 1203.7 L974.9 1203.2 L959.2 1202.8 L956.6 1204.6 L953.9 1207.7 L951.3 1204.6 L949.9 1207.7 L950.0 1207.7 L946.5 1206.7 L942.2 1204.6 L940.4 1210.7 L932.6 1211.5 L929.1 1215.4 L925.6 1214.2 L921.2 1208.9 L918.6 1203.2 L913.4 1202.8 L902.9 1206.7 L900.3 1211.5 L896.8 1210.7 L894.2 1207.2 L891.6 1211.5 L888.1 1210.7 L885.5 1206.3 L878.5 1205.4 L873.3 1207.2 L869.8 1211.5 L864.6 1210.7 L862.9 1206.7 L854.1 1206.7 L852.4 1211.5 L848.9 1215.4 L846.3 1214.2 L844.6 1207.2 L842.8 1214.2 L837.6 1214.2 L834.1 1218.5 L829.7 1219.4 L825.4 1218.2 L821.9 1214.2 L817.5 1208.1 L813.2 1206.7 L810.6 1203.7 L806.2 1206.3 L801.9 1210.7 L797.5 1215.0 L794.0 1215.0 L789.7 1219.4 L786.2 1219.9 L782.7 1217.6 L780.9 1213.3 L776.6 1215.4 L761.8 1215.4 L760.9 1221.1 L757.4 1222.9 L754.8 1221.1 L753.1 1215.0 L747.8 1215.4 L744.3 1213.3 L740.8 1211.5 L737.4 1215.0 L731.3 1215.9 L726.9 1215.0 L723.4 1211.5 L718.2 1211.5 L714.7 1215.0 L712.1 1226.4 L706.0 1226.9 L701.6 1225.5 L698.1 1219.4 L694.7 1217.6 L692.9 1211.5 L687.7 1210.7 L684.2 1203.7 L679.8 1206.3 L676.4 1211.5 L672.9 1209.8 L670.3 1207.2 L666.8 1211.5 L663.3 1209.8 L661.5 1203.2 L656.3 1202.8 L654.6 1207.2 L645.0 1206.7 L641.5 1203.2 L637.1 1202.8 L634.5 1205.4 L631.0 1211.5 L627.6 1209.8 L625.8 1202.8 L622.3 1199.7 L618.0 1199.3 L613.6 1195.9 L610.1 1202.8 L606.6 1207.7 L603.2 1206.3 L600.5 1199.3 L590.1 1199.7 L587.5 1203.7 L584.0 1202.8 L581.4 1195.9 L577.9 1192.4 L575.3 1195.9 L571.8 1199.7 L568.3 1199.3 L564.8 1192.4 L559.9 1195.0 L560.0 1195.0 L557.4 1197.6 L553.9 1199.7 L549.5 1197.6 L546.1 1193.2 L541.7 1195.0 L536.5 1200.2 L533.0 1203.7 L529.5 1201.1 L524.3 1199.3 L519.0 1201.1 L513.8 1202.8 L512.1 1206.3 L508.6 1211.5 L505.1 1207.2 L500.7 1206.3 L496.4 1202.8 L492.9 1199.3 L489.4 1198.5 L485.9 1200.2 L482.4 1203.7 L479.0 1201.1 L475.5 1194.1 L470.2 1195.9 L466.8 1192.4 L462.4 1195.9 L458.9 1194.1 L454.6 1187.1 L451.1 1187.1 L447.6 1191.5 L443.2 1190.6 L440.6 1195.9 L436.3 1199.3 L432.8 1197.6 L429.3 1199.7 L425.8 1197.6 L423.2 1188.0 L418.0 1188.0 L410.1 1188.0 L406.6 1190.6 L401.4 1192.4 L397.0 1188.9 L395.3 1181.9 L391.8 1183.7 L386.6 1184.5 L383.1 1185.4 L381.4 1190.6 L379.6 1200.2 L375.3 1202.8 L371.8 1199.3 L368.3 1201.1 L365.7 1207.2 L362.2 1211.5 L358.7 1209.8 L354.3 1208.1 L351.7 1213.3 L346.5 1215.0 L341.3 1218.5 L338.6 1222.9 L335.2 1226.4 L330.8 1225.5 L328.2 1222.0 L323.8 1222.0 L317.7 1222.9 L316.0 1229.0 L311.6 1229.8 L305.5 1229.8 L301.2 1231.6 L296.8 1234.2 L293.3 1232.5 L289.0 1229.8 L284.6 1232.5 L280.3 1237.7 L275.9 1237.7 L271.5 1239.4 L266.3 1242.6 L262.8 1240.3 L260.2 1235.9 L257.6 1232.5 L255.0 1237.7 L247.1 1237.7 L241.9 1238.6 L234.9 1238.6 L228.8 1239.4 L224.5 1241.2 L221.0 1237.7 L215.8 1234.2 L210.5 1235.1 L205.3 1237.7 L200.1 1237.7 L194.9 1238.6 L190.5 1241.2 L186.1 1237.7 L180.9 1239.4 L175.7 1242.0 L172.2 1239.4 L168.7 1234.2 L164.9 1232.5Z" fill="#f0f" stroke="#f0f" stroke-width="1" stroke-linejoin="round"/>
<path d="M1051.5 1190.6 L1054.2 1185.4 L1058.5 1185.4 L1061.1 1181.6 L1065.5 1181.0 L1068.1 1182.8 L1070.7 1181.0 L1073.3 1183.7 L1076.8 1186.3 L1078.6 1193.2 L1082.9 1194.1 L1085.5 1189.8 L1089.0 1189.2 L1091.6 1193.2 L1092.5 1197.6 L1096.0 1198.0 L1099.5 1202.0 L1102.1 1197.6 L1108.2 1197.3 L1111.7 1194.1 L1114.3 1193.2 L1124.7 1193.2 L1127.4 1195.0 L1130.8 1193.2 L1134.3 1197.6 L1138.7 1198.5 L1141.3 1202.0 L1145.7 1204.6 L1148.3 1202.0 L1150.0 1190.6 L1152.6 1188.9 L1156.1 1190.6 L1157.9 1195.0 L1160.5 1193.8 L1168.3 1193.6 L1170.9 1197.6 L1171.8 1201.1 L1176.2 1201.1 L1178.8 1197.6 L1182.3 1198.0 L1184.9 1201.1 L1186.6 1195.0 L1189.2 1193.6 L1192.7 1195.0 L1193.6 1197.6 L1199.7 1197.3 L1201.4 1194.1 L1205.8 1193.6 L1208.4 1195.9 L1211.9 1193.6 L1214.5 1195.0 L1218.0 1193.6 L1225.0 1194.1 L1226.7 1197.6 L1229.3 1200.2 L1232.8 1197.6 L1242.4 1197.6 L1245.0 1201.1 L1246.8 1205.4 L1258.1 1205.4 L1260.7 1206.3 L1264.2 1205.4 L1267.7 1204.6 L1269.1 1198.0 L1272.9 1197.3 L1275.5 1201.1 L1282.5 1201.4 L1284.2 1208.1 L1287.7 1208.4 L1290.3 1212.4 L1295.6 1212.4 L1298.2 1208.9 L1303.4 1208.4 L1306.0 1212.4 L1312.1 1212.4 L1313.9 1206.3 L1316.5 1205.4 L1325.2 1205.4 L1327.8 1206.7 L1330.4 1202.0 L1333.9 1201.1 L1340.0 1201.1 L1339.9 1201.1 L1342.2 1201.4 L1343.9 1204.6 L1351.8 1204.9 L1353.5 1215.0 L1360.5 1215.9 L1364.0 1211.5 L1368.3 1208.9 L1372.7 1208.9 L1375.3 1212.4 L1377.1 1215.9 L1382.3 1216.4 L1387.5 1212.4 L1391.9 1211.5 L1395.4 1206.3 L1398.8 1204.9 L1401.5 1207.2 L1405.8 1208.4 L1408.4 1215.0 L1417.1 1215.9 L1420.6 1219.9 L1425.0 1218.5 L1429.3 1212.4 L1432.8 1208.4 L1439.8 1208.4 L1442.4 1214.2 L1444.2 1215.9 L1452.0 1215.9 L1454.6 1219.4 L1460.7 1219.9 L1462.5 1223.7 L1467.7 1224.1 L1469.4 1220.3 L1474.7 1220.3 L1478.1 1216.4 L1486.0 1216.3 L1488.6 1219.4 L1493.0 1220.3 L1494.7 1224.1 L1498.2 1224.1 L1499.9 1216.4 L1504.3 1216.3 L1506.9 1220.3 L1511.3 1216.4 L1522.6 1216.3 L1526.1 1220.3 L1538.3 1220.3 L1540.9 1216.4 L1544.4 1212.4 L1547.9 1212.4 L1551.4 1215.9 L1555.7 1216.4 L1558.3 1220.3 L1561.8 1216.4 L1567.0 1216.4 L1568.8 1220.3 L1575.8 1220.6 L1577.5 1220.3 L1586.2 1220.3 L1588.0 1224.1 L1609.7 1224.1 L1613.2 1220.3 L1623.7 1219.9 L1625.4 1216.4 L1629.8 1216.3 L1632.4 1220.3 L1639.4 1220.3 L1641.1 1227.2 L1645.5 1227.6 L1649.8 1231.1 L1653.3 1227.2 L1657.7 1220.3 L1665.5 1220.3 L1668.1 1224.1 L1682.1 1224.1 L1683.8 1216.4 L1689.0 1216.4 L1690.8 1220.3 L1693.4 1224.1 L1697.8 1225.1 L1700.4 1224.1 L1705.6 1224.6 L1709.1 1225.5 L1710.8 1224.1 L1715.2 1224.6 L1716.9 1227.6 L1724.8 1227.8 L1727.4 1229.8 L1730.0 1232.5 L1729.9 1232.5 L1731.3 1235.1 L1733.9 1231.6 L1738.3 1231.6 L1741.8 1234.2 L1744.4 1231.6 L1747.9 1232.5 L1750.5 1228.1 L1753.1 1224.6 L1757.5 1220.6 L1761.8 1220.6 L1763.6 1224.1 L1767.1 1227.2 L1768.8 1231.6 L1784.5 1231.6 L1787.1 1233.3 L1789.7 1231.6 L1792.3 1233.3 L1794.9 1231.6 L1798.4 1231.9 L1801.9 1233.3 L1805.4 1231.6 L1811.5 1231.6 L1815.0 1235.9 L1820.2 1235.6 L1824.6 1239.1 L1831.5 1239.4 L1835.0 1242.0 L1838.5 1239.4 L1842.0 1242.9 L1848.1 1243.3 L1849.8 1236.8 L1853.3 1235.6 L1855.9 1239.4 L1862.9 1239.4 L1866.4 1243.3 L1869.9 1243.8 L1871.6 1237.7 L1874.2 1235.6 L1876.9 1237.7 L1879.5 1242.9 L1883.8 1246.4 L1887.3 1243.8 L1907.4 1243.8 L1910.8 1247.3 L1915.2 1246.4 L1918.7 1239.4 L1922.2 1235.6 L1924.8 1237.7 L1927.4 1243.3 L1939.6 1243.8 L1942.2 1246.4 L1945.7 1243.8 L1950.1 1246.4 L1954.4 1246.1 L1957.0 1243.8 L1966.6 1243.8 L1969.2 1245.5 L1971.9 1243.8 L1976.2 1244.7 L1978.0 1247.3 L1995.4 1247.3 L1998.9 1246.8 L2012.8 1246.4 L2016.3 1245.5 L2019.8 1243.3 L2028.5 1243.3 L2033.7 1248.1 L2051.2 1249.9 L2061.6 1250.8 L2068.6 1251.6 L2084.3 1251.6 L2087.8 1250.8 L2094.7 1252.5 L2094.7 1263.8 L2084.3 1263.8 L2068.6 1263.8 L2061.6 1261.2 L2051.2 1260.3 L2033.7 1257.7 L2019.8 1256.9 L2012.8 1257.7 L2005.8 1256.9 L1998.9 1258.6 L1995.4 1260.3 L1990.2 1259.5 L1983.2 1259.5 L1979.7 1263.0 L1976.2 1263.8 L1972.7 1260.3 L1967.5 1257.7 L1964.0 1256.9 L1960.5 1256.0 L1955.3 1255.1 L1951.8 1256.5 L1944.0 1257.4 L1939.6 1256.0 L1930.9 1256.9 L1926.5 1256.0 L1923.1 1253.4 L1920.4 1255.1 L1916.9 1256.9 L1908.2 1257.4 L1904.7 1256.0 L1901.3 1253.0 L1899.5 1256.0 L1896.0 1256.9 L1892.5 1256.0 L1889.9 1253.4 L1888.2 1256.0 L1884.7 1257.4 L1880.3 1256.0 L1877.7 1253.0 L1873.4 1256.0 L1867.3 1256.5 L1864.7 1253.4 L1861.2 1249.5 L1856.8 1249.0 L1852.5 1252.5 L1849.0 1256.0 L1842.9 1256.9 L1840.3 1253.0 L1835.9 1253.4 L1831.5 1253.0 L1827.2 1249.5 L1822.0 1249.0 L1818.5 1252.5 L1815.0 1253.0 L1812.4 1249.9 L1809.8 1245.5 L1805.4 1249.5 L1799.3 1249.0 L1796.7 1245.5 L1786.2 1244.7 L1781.9 1245.5 L1775.8 1246.1 L1772.3 1242.0 L1766.2 1241.2 L1763.6 1237.7 L1760.1 1241.2 L1754.9 1242.0 L1750.5 1246.1 L1745.3 1246.1 L1740.9 1242.9 L1737.4 1245.5 L1733.9 1243.8 L1730.5 1246.4 L1729.9 1246.1 L1730.0 1246.4 L1726.5 1244.7 L1722.2 1242.0 L1717.8 1241.5 L1713.4 1238.6 L1706.5 1238.6 L1703.0 1238.0 L1696.9 1238.6 L1694.3 1235.1 L1689.9 1234.2 L1688.2 1238.0 L1666.4 1238.6 L1664.6 1241.5 L1659.8 1242.0 L1659.1 1234.2 L1655.9 1234.2 L1654.2 1243.8 L1650.7 1246.1 L1647.2 1243.8 L1643.7 1239.4 L1639.4 1237.7 L1636.8 1234.2 L1635.0 1238.0 L1630.7 1237.3 L1628.9 1229.8 L1624.6 1233.3 L1620.2 1234.2 L1617.6 1238.0 L1613.2 1237.7 L1608.9 1234.2 L1606.3 1238.0 L1603.6 1237.7 L1600.2 1234.2 L1596.7 1238.0 L1589.7 1237.7 L1587.1 1234.2 L1580.1 1233.3 L1577.5 1229.8 L1574.0 1233.9 L1570.5 1233.3 L1567.0 1229.8 L1565.3 1234.2 L1555.7 1233.9 L1552.2 1229.8 L1550.5 1226.4 L1547.9 1229.8 L1534.8 1230.4 L1523.5 1229.8 L1520.0 1226.4 L1517.4 1229.8 L1512.1 1233.9 L1507.8 1234.2 L1503.4 1233.3 L1501.7 1229.8 L1499.4 1230.4 L1498.2 1237.7 L1495.6 1238.0 L1493.8 1234.2 L1490.3 1233.9 L1487.7 1230.4 L1479.9 1229.8 L1477.3 1233.3 L1473.8 1234.2 L1470.3 1238.0 L1467.7 1237.7 L1465.9 1234.2 L1459.0 1233.3 L1457.2 1229.8 L1453.7 1229.8 L1450.3 1233.9 L1446.8 1232.5 L1445.0 1226.4 L1442.4 1222.9 L1431.1 1222.9 L1430.2 1226.4 L1427.6 1229.8 L1412.8 1230.4 L1410.2 1229.0 L1408.4 1223.7 L1404.9 1222.9 L1401.5 1226.4 L1398.8 1225.5 L1397.1 1222.0 L1395.4 1225.8 L1385.8 1226.4 L1383.2 1229.8 L1380.5 1230.4 L1377.9 1226.4 L1374.4 1225.5 L1371.8 1222.0 L1367.5 1222.0 L1365.7 1225.5 L1362.2 1230.4 L1358.8 1229.8 L1356.1 1226.4 L1350.0 1226.4 L1348.3 1224.6 L1345.7 1219.4 L1339.9 1217.6 L1340.0 1218.5 L1334.8 1217.6 L1332.2 1222.0 L1328.7 1222.0 L1326.1 1218.5 L1322.6 1222.0 L1316.5 1222.0 L1306.0 1222.0 L1295.6 1222.0 L1293.8 1225.5 L1290.3 1225.8 L1287.7 1222.9 L1284.2 1221.1 L1279.9 1218.5 L1277.3 1215.0 L1273.8 1212.4 L1272.0 1214.2 L1269.4 1218.5 L1263.3 1219.4 L1259.0 1219.4 L1255.5 1215.9 L1252.9 1218.5 L1249.4 1219.4 L1246.8 1215.9 L1242.4 1215.0 L1239.8 1212.4 L1234.6 1211.5 L1226.7 1211.5 L1224.1 1208.9 L1221.5 1205.4 L1217.1 1207.7 L1214.5 1211.2 L1210.2 1210.7 L1206.7 1207.2 L1200.6 1207.2 L1194.5 1207.7 L1191.9 1210.7 L1187.5 1211.2 L1179.7 1211.2 L1171.8 1211.5 L1166.6 1211.2 L1164.8 1207.7 L1162.2 1207.2 L1158.7 1210.7 L1156.1 1209.8 L1152.6 1210.7 L1150.9 1215.0 L1148.3 1219.4 L1144.8 1218.5 L1142.2 1215.0 L1138.7 1215.0 L1135.2 1213.3 L1133.5 1207.2 L1130.0 1206.7 L1128.2 1210.7 L1124.7 1210.7 L1122.1 1208.1 L1119.5 1206.7 L1114.3 1206.7 L1111.7 1207.7 L1108.2 1211.5 L1104.7 1210.7 L1101.2 1211.2 L1096.0 1211.5 L1093.4 1209.8 L1090.8 1207.2 L1082.9 1207.7 L1080.3 1205.4 L1078.6 1200.2 L1075.1 1199.3 L1071.6 1197.6 L1068.1 1200.2 L1064.6 1199.3 L1062.0 1199.7 L1055.9 1199.7 L1054.2 1198.5 L1051.5 1192.4Z" fill="#f0f" stroke="#f0f" stroke-width="1" stroke-linejoin="round"/>
<path d="M1020.5 1212.0 L1020.8 511.0 L1022.5 511.0 L1023.5 700.0 L1025.0 850.0 L1027.0 941.0 L1030.3 1007.0 L1033.5 1060.0 L1036.2 1100.0 L1039.3 1126.0 L1042.5 1150.5 L1046.3 1161.0 L1049.8 1175.0 L1052.4 1187.0 L1055.0 1195.0" fill="none" stroke="#f0f" stroke-width="7.5" stroke-linejoin="round" stroke-linecap="round"/>
<path d="M164.9 1259.5 L176.6 1259.5 L179.2 1257.7 L183.5 1251.6 L187.0 1248.1 L190.5 1251.6 L194.9 1257.7 L199.2 1263.3 L203.6 1260.3 L207.9 1253.4 L211.4 1249.0 L214.9 1248.5 L217.5 1253.4 L221.0 1263.8 L224.1 1267.3 L227.1 1263.0 L229.7 1257.7 L236.7 1257.7" fill="none" stroke="#00f" stroke-width="10" stroke-linejoin="round" stroke-linecap="butt"/>
<path d="M164.9 1259.5 L176.6 1259.5 L179.2 1257.7 L183.5 1251.6 L187.0 1248.1 L190.5 1251.6 L194.9 1257.7 L199.2 1263.3 L203.6 1260.3 L207.9 1253.4 L211.4 1249.0 L214.9 1248.5 L217.5 1253.4 L221.0 1263.8 L224.1 1267.3 L227.1 1263.0 L229.7 1257.7 L236.7 1257.7 L239.3 1263.8 L241.0 1274.3 L243.3 1288.2 L244.9 1290.8 L246.6 1283.0 L248.0 1265.6 L249.2 1239.4 L250.6 1208.1 L253.2 1187.1 L255.9 1173.2 L259.3 1167.1 L261.6 1159.3 L263.2 1145.3 L264.9 1129.6 L266.7 1117.4 L269.5 1112.2 L270.5 1108.0 L269.7 1108.0" fill="none" stroke="#00f" stroke-width="7.4" stroke-linejoin="round" stroke-linecap="round"/>
<path d="M269.7 1108.0 L270.9 1096.1 L276.7 1098.4 L279.3 1076.6 L281.0 1069.6 L281.9 1055.7 L283.3 1038.2 L284.9 1022.5 L285.9 1006.9 L287.7 992.9 L289.2 979.0 L290.6 970.3 L292.4 958.9 L295.0 959.8 L298.5 965.0 L301.1 972.0 L303.7 966.8 L305.4 958.9 L306.7 954.6 L309.5 956.3 L311.5 949.3 L314.2 946.7 L317.1 947.6 L318.2 937.1 L319.4 926.7 L320.3 916.2 L322.0 902.3 L323.4 894.4 L325.5 891.8 L329.8 890.4 L332.5 893.6 L334.6 902.3 L335.9 893.6 L336.8 881.4 L337.7 867.4 L339.4 865.7 L341.5 860.5 L342.9 850.0 L343.3 847.5" fill="none" stroke="#00f" stroke-width="7.4" stroke-linejoin="round" stroke-linecap="round"/>
<path d="M343.3 847.5 L344.7 837.0 L348.1 831.8 L351.6 826.6 L356.0 823.1 L356.9 809.2 L358.3 798.7 L360.3 790.0 L363.0 783.0 L365.6 788.2 L366.4 800.4 L368.2 804.8 L370.8 800.4 L372.5 795.2 L375.2 790.0 L376.0 774.3 L376.9 753.4 L377.8 747.3 L382.1 747.3 L383.9 737.7 L384.7 734.2 L390.0 734.2 L391.4 722.0 L392.6 713.3 L396.1 711.5 L397.3 701.1 L398.7 694.1 L403.1 690.6 L405.7 683.7 L407.4 681.9 L411.8 682.8 L416.1 687.1 L420.0 695.0 L421.0 683.7 L421.7 669.7 L424.0 657.5 L425.7 650.5 L429.2 647.1 L429.7 634.9 L432.7 629.6 L437.0 622.7 L439.1 624.4 L441.4 634.0 L444.0 631.4 L446.6 620.9 L447.5 608.7 L451.0 598.3 L454.8 592.5 L457.1 598.3 L458.3 610.5 L459.7 621.8 L463.2 620.9 L465.8 615.7 L467.5 605.2 L469.3 600.0 L470.2 592.3" fill="none" stroke="#00f" stroke-width="7.4" stroke-linejoin="round" stroke-linecap="round"/>
<path d="M470.2 592.3 L471.0 583.6 L472.2 574.8 L474.0 564.4 L475.4 556.5 L478.0 555.7 L480.6 559.2 L482.0 573.1 L483.2 575.7 L485.0 566.1 L487.6 560.9 L490.2 558.3 L494.6 553.9 L496.3 541.7 L497.2 531.3 L498.4 519.1 L500.1 515.6 L503.3 516.4 L504.7 531.3 L506.4 550.4 L508.5 552.2 L510.2 538.2 L512.0 524.3 L513.7 524.3 L515.8 533.0 L518.1 548.7 L520.7 562.6 L522.4 567.9 L524.5 555.7 L525.9 538.2 L527.7 529.5 L530.3 522.5 L532.9 517.3 L534.6 506.9 L536.0 498.1 L539.0 492.9 L541.6 490.3 L544.2 494.7 L545.1 515.6 L546.0 529.5 L549.5 531.3 L552.1 534.7 L555.6 534.7 L559.0 541.7 L560.8 559.2 L562.5 564.4 L565.1 550.4 L568.6 541.7 L570.4 533.0 L571.2 506.9 L573.0 498.1 L577.3 496.4 L580.8 492.9 L583.4 485.9 L586.1 482.8 L588.3 485.9 L589.5 503.4 L591.3 517.3 L593.0 541.7 L595.6 548.7 L598.3 548.7 L600.0 524.3 L600.5 522.0" fill="none" stroke="#00f" stroke-width="7.8" stroke-linejoin="round" stroke-linecap="round"/>
<path d="M600.5 522.0 L602.2 508.1 L604.8 501.1 L606.6 508.1 L607.4 525.5 L609.2 529.0 L610.6 513.3 L611.8 503.7 L614.4 503.7 L615.8 513.3 L617.0 530.7 L618.2 556.9 L619.3 569.9 L621.4 565.6 L623.1 548.1 L624.0 525.5 L625.7 516.8 L628.3 515.9 L630.4 520.3 L631.8 529.0 L633.6 535.9 L635.0 553.4 L636.2 574.3 L637.9 584.7 L640.2 581.3 L641.9 565.6 L643.2 553.4 L645.8 542.9 L648.4 542.0 L649.6 548.1 L651.0 560.3 L653.6 562.1 L657.1 564.7 L658.8 574.3 L659.7 580.4 L663.2 577.8 L664.9 567.3 L667.6 574.3 L671.0 576.0 L671.9 567.3 L673.3 560.3 L676.3 557.7 L679.8 556.5 L681.5 565.6 L682.4 579.5 L684.1 582.7 L685.9 577.8 L686.7 556.9 L688.0 539.4 L689.3 525.5 L691.1 517.1 L692.8 522.0 L694.6 535.9 L696.3 549.9 L698.9 553.4 L701.5 541.2 L704.2 539.4 L706.4 548.1 L708.5 553.4 L711.1 549.9 L712.9 553.4 L714.6 565.6 L716.4 581.3 L719.0 591.7 L721.6 602.2 L723.3 604.8 L725.1 591.7 L726.8 574.3 L729.4 567.3 L732.0 560.3 L733.8 565.6 L734.7 583.0 L736.4 595.2 L738.5 600.4 L740.8 591.7 L743.4 583.0 L744.2 567.3 L746.0 560.3 L748.6 556.9 L749.5 548.1 L752.1 546.4 L754.7 537.7 L756.4 535.1 L758.2 539.4 L759.9 549.9 L763.4 551.6 L766.0 553.4 L767.4 539.4 L769.5 534.2 L771.3 522.0 L772.1 508.1 L773.9 505.4 L776.5 511.5 L777.9 504.6 L780.0 496.7 L781.7 501.1 L783.1 515.0 L785.2 518.5 L786.9 532.5 L787.8 548.1 L789.6 553.4 L792.2 548.1 L793.9 525.5 L795.7 511.5 L797.4 508.1 L800.0 508.9 L801.2 522.0 L802.6 539.4 L805.3 546.4 L807.0 539.4 L808.7 522.0 L809.6 511.5 L811.7 505.4 L814.8 508.1 L818.3 508.9 L820.1 518.5 L820.9 539.4 L822.7 549.9 L824.4 556.9 L827.0 553.4 L828.4 539.4 L830.5 535.1 L833.1 537.7 L834.0 553.4 L835.8 560.3 L838.4 567.3 L841.0 576.0 L843.6 572.5 L846.2 562.1 L848.8 567.3 L850.6 556.9 L852.3 537.7 L854.1 522.0 L855.8 513.3 L856.7 504.6 L859.3 499.3 L861.0 492.4 L862.8 492.4 L864.5 504.6 L867.1 513.3 L870.6 518.5 L872.4 508.1 L874.1 495.0 L875.8 495.0 L877.6 506.3 L880.2 513.3 L882.8 515.0 L885.4 508.1 L888.9 508.1 L890.1 522.0 L891.5 535.9 L894.1 546.4 L896.8 553.4 L898.5 555.1 L900.2 548.1 L902.0 530.7 L905.5 525.5 L907.2 511.5 L909.0 509.8 L910.3 522.0 L911.6 537.7 L913.3 541.2 L915.9 532.5 L918.5 529.0 L919.4 504.6 L920.3 487.1 L922.0 483.7 L924.6 487.1 L926.0 504.6 L927.3 525.5 L929.9 522.0 L932.5 511.5 L934.2 499.3 L936.8 498.5 L938.6 511.5 L940.3 522.0 L942.9 525.5 L944.7 539.4 L947.3 549.9 L949.0 565.6 L951.7 572.5 L953.4 562.1 L954.3 539.4 L956.0 518.5 L957.8 504.6 L959.5 490.6 L961.2 481.9 L963.0 481.9 L964.7 497.6 L966.5 511.5 L968.2 514.2 L970.8 508.1 L972.6 497.6 L975.2 485.4 L977.8 481.6 L982.2 483.7 L984.2 495.9 L985.6 511.5 L988.3 525.5 L990.0 535.9 L992.2 535.9" fill="none" stroke="#00f" stroke-width="8.2" stroke-linejoin="round" stroke-linecap="round"/>
<path d="M992.2 535.9 L994.8 532.5 L996.6 522.0 L999.2 525.5 L1000.6 504.6 L1001.8 495.0 L1003.5 494.1 L1006.1 501.1 L1009.6 503.7 L1011.4 511.5 L1013.1 518.5 L1014.9 513.3 L1017.5 508.1 L1021.0 502.8 L1023.6 494.1 L1025.7 488.5 L1027.9 490.6 L1029.7 502.8 L1032.3 505.4 L1033.2 487.1 L1034.9 480.2 L1038.4 479.3 L1041.0 477.6 L1043.1 481.9 L1044.1 497.6 L1045.4 511.5 L1047.1 522.0 L1049.4 511.5 L1050.6 487.1 L1052.3 469.7 L1053.2 457.5 L1055.8 454.4 L1058.4 459.3 L1061.0 462.7 L1062.3 476.7 L1063.7 490.6 L1066.3 501.1 L1068.9 494.1 L1070.6 490.6 L1072.4 502.8 L1074.1 511.5 L1075.9 504.6 L1076.7 490.6 L1079.3 480.2 L1081.1 473.2 L1083.7 472.3 L1086.3 476.7 L1087.2 490.6 L1088.1 504.6 L1089.8 516.8 L1093.3 516.8 L1095.4 504.6 L1096.8 488.9 L1098.5 487.1 L1100.6 492.4 L1102.9 499.3 L1106.4 499.3 L1107.2 513.3 L1108.6 527.2 L1110.7 534.2 L1112.8 537.7 L1115.1 529.0 L1116.8 497.6 L1117.7 483.7 L1119.4 482.3 L1121.2 487.1 L1122.0 497.6 L1124.7 511.5 L1126.4 530.7 L1128.1 547.3 L1130.2 535.9 L1131.6 513.3 L1133.4 508.1 L1136.0 506.3 L1138.6 507.2 L1140.0 522.0 L1141.2 535.9 L1143.8 542.9 L1146.4 539.4 L1148.2 525.5 L1149.9 522.0 L1151.7 511.5 L1154.3 506.3 L1156.9 503.2 L1158.6 508.1 L1159.5 522.0 L1161.3 529.0 L1164.7 530.7 L1166.1 544.7 L1167.4 557.7 L1169.1 548.1 L1170.0 532.5 L1172.6 529.0 L1175.2 513.3 L1176.9 508.9 L1178.7 515.0 L1179.6 529.0 L1180.4 539.4 L1183.1 535.9 L1184.8 549.9 L1186.5 532.5 L1188.3 526.4 L1190.0 529.0 L1191.8 544.7 L1195.3 541.2 L1197.0 534.2 L1198.7 525.5 L1200.5 520.3 L1203.1 519.4 L1205.7 525.5 L1207.5 539.4 L1209.2 556.9 L1210.9 567.3 L1213.6 563.8 L1214.4 539.4 L1215.3 527.2 L1217.9 522.0 L1219.7 513.3 L1222.3 518.5 L1223.7 539.4 L1224.9 548.1 L1227.5 556.9 L1229.2 569.1 L1231.9 569.9 L1234.5 563.8 L1236.2 551.6 L1238.8 547.3 L1240.6 565.6 L1243.2 551.6 L1246.7 544.7 L1249.3 537.7 L1251.0 542.9 L1251.9 556.9 L1253.6 561.2 L1255.4 549.9 L1258.9 544.7 L1260.6 529.0 L1261.5 522.0 L1265.0 521.1 L1265.8 539.4 L1266.7 556.9 L1268.5 556.9 L1271.1 542.9 L1272.8 539.4 L1274.6 508.1 L1276.3 502.8 L1278.9 501.1 L1280.7 511.5 L1282.4 522.0 L1283.6 539.4 L1285.9 553.4 L1288.5 549.9 L1291.1 551.6 L1292.9 565.6 L1295.5 570.8 L1298.1 574.3 L1299.8 576.9 L1302.1 570.8 L1303.3 560.3 L1305.9 553.4 L1306.8 535.9 L1309.4 529.0 L1312.0 525.5 L1313.8 518.5 L1315.5 515.9 L1317.3 525.5 L1319.0 534.2 L1321.6 532.5 L1322.5 548.1 L1324.2 553.4 L1327.7 548.1 L1329.5 565.6 L1331.2 560.3 L1332.9 556.9 L1334.7 572.5 L1337.3 569.1 L1339.0 562.1 L1340.8 567.3 L1342.5 580.4 L1345.1 574.3 L1346.0 560.3 L1348.6 567.3 L1350.4 574.3 L1351.6 556.9 L1353.0 548.1 L1354.7 544.7 L1355.6 529.0 L1357.3 523.4 L1360.0 527.2 L1362.6 534.2 L1366.1 534.2 L1367.8 527.2 L1370.4 522.4 L1372.5 529.0 L1374.8 535.9 L1377.4 539.4 L1380.0 551.6 L1380.5 551.5" fill="none" stroke="#00f" stroke-width="8.2" stroke-linejoin="round" stroke-linecap="round"/>
<path d="M1380.5 551.5 L1383.9 555.0 L1386.6 565.5 L1387.4 579.4 L1389.2 583.8 L1390.6 570.7 L1391.3 555.0 L1392.7 551.5 L1394.4 562.0 L1395.8 579.4 L1397.9 575.9 L1398.8 560.3 L1401.4 559.4 L1403.5 572.5 L1405.7 577.7 L1407.5 588.1 L1409.2 600.3 L1411.0 607.3 L1413.2 614.3 L1415.3 621.3 L1417.9 619.5 L1419.7 607.3 L1422.3 600.3 L1425.8 596.9 L1429.3 600.3 L1431.9 603.8 L1433.6 593.4 L1435.4 579.4 L1437.1 570.7 L1438.8 560.3 L1440.6 557.1 L1444.1 560.3 L1446.7 572.5 L1449.3 570.7 L1451.9 562.0 L1454.5 561.1 L1456.3 575.9 L1458.0 588.1 L1459.8 591.3 L1462.4 584.7 L1465.0 575.9 L1466.7 562.0 L1467.6 551.5 L1470.2 548.1 L1473.7 542.8 L1476.3 539.3 L1478.9 536.2 L1481.5 544.6 L1482.4 562.0 L1484.2 569.0 L1485.9 584.7 L1487.6 607.3 L1489.4 616.0 L1492.0 614.3 L1492.9 596.9 L1494.1 582.9 L1495.5 570.7 L1497.2 567.2 L1499.3 574.2 L1501.1 588.1 L1502.5 596.9 L1504.2 610.8 L1507.7 612.5 L1510.3 617.8 L1512.0 630.0 L1515.5 626.5 L1518.1 623.0 L1519.9 596.9 L1521.6 575.9 L1523.0 569.0 L1526.0 568.1 L1528.6 575.9 L1530.3 588.1 L1532.4 596.0 L1534.2 579.4 L1535.6 570.7 L1538.2 572.5 L1539.9 589.9 L1542.5 596.9 L1546.0 602.1 L1547.8 614.3 L1549.5 617.8 L1552.1 607.3 L1554.7 595.1 L1556.5 591.6 L1558.2 600.3 L1560.0 612.5 L1562.6 607.3 L1564.3 596.9 L1566.1 588.1 L1568.7 586.1 L1570.4 593.4 L1572.2 603.8 L1574.8 609.1 L1575.7 621.3 L1577.8 625.6 L1580.9 617.8 L1583.5 596.9 L1586.1 593.4 L1587.9 588.1 L1590.0 587.3 L1591.7 596.9 L1593.1 617.8 L1594.8 635.2 L1596.6 649.2 L1598.7 663.1 L1598.6 663.1" fill="none" stroke="#00f" stroke-width="8.2" stroke-linejoin="round" stroke-linecap="round"/>
<path d="M1598.6 663.1 L1601.8 659.3 L1603.5 648.8 L1606.1 654.0 L1607.9 662.7 L1609.3 678.4 L1610.5 697.6 L1611.7 699.7 L1614.0 687.1 L1616.6 681.9 L1619.2 666.2 L1622.7 665.4 L1626.2 669.7 L1627.9 655.8 L1629.7 648.8 L1631.4 647.4 L1633.2 657.5 L1633.7 678.4 L1634.9 682.8 L1636.6 669.7 L1638.4 659.3 L1641.0 668.0 L1642.7 676.7 L1644.1 697.6 L1645.4 718.5 L1647.1 729.0 L1648.8 731.1 L1651.5 722.0 L1653.2 708.1 L1655.3 690.6 L1657.6 697.6 L1659.3 704.6 L1660.5 687.1 L1661.6 669.7 L1662.8 662.7 L1665.4 666.2 L1668.0 673.2 L1670.6 676.7 L1671.5 695.9 L1672.4 718.5 L1674.1 732.5 L1675.9 735.1 L1677.6 729.0 L1679.3 718.5 L1681.1 704.6 L1683.2 690.6 L1685.4 687.1 L1687.2 697.6 L1688.9 708.1 L1691.5 715.0 L1693.3 729.0 L1695.9 722.0 L1698.5 735.9 L1700.3 741.5 L1702.0 732.5 L1704.1 711.5 L1705.8 708.9 L1708.1 737.7 L1709.8 722.0 L1711.6 708.1 L1715.1 701.1 L1717.7 697.3 L1720.3 704.6 L1722.0 722.0 L1723.8 742.9 L1725.5 760.3 L1728.1 753.4 L1729.9 742.9 L1731.6 751.6 L1733.4 730.7 L1735.1 704.6 L1737.7 697.6 L1740.0 691.5 L1742.1 697.6 L1743.8 715.0 L1744.7 735.9 L1746.4 756.9 L1747.7 772.5 L1749.9 774.3 L1751.7 781.3 L1753.4 770.8 L1755.2 753.4 L1756.9 743.8 L1759.2 751.6 L1760.4 763.8 L1762.1 774.3 L1763.9 791.7 L1765.6 816.1 L1767.4 805.7 L1769.1 774.3 L1770.8 756.9 L1772.6 744.7 L1774.9 741.2 L1776.9 749.9 L1778.7 763.8 L1781.3 772.5 L1782.2 791.7 L1783.9 802.2 L1786.5 809.2 L1789.2 817.9 L1791.8 809.2 L1793.5 812.6 L1795.3 823.1 L1797.9 819.6 L1800.9 839.0" fill="none" stroke="#00f" stroke-width="8.6" stroke-linejoin="round" stroke-linecap="round"/>
<path d="M1800.9 839.0 L1804.8 846.9 L1807.4 859.9 L1810.0 846.9 L1812.6 794.6 L1815.3 763.2 L1818.4 748.8 L1821.8 758.0 L1824.4 778.9 L1825.7 799.8 L1829.6 805.0 L1833.6 812.9 L1836.2 836.4 L1838.3 867.8 L1840.1 879.5 L1842.7 859.9 L1845.3 836.4 L1847.9 831.2 L1850.6 846.9 L1851.9 873.0 L1854.5 857.3 L1857.1 836.4 L1859.2 835.1 L1861.8 857.3 L1863.6 899.2 L1865.5 920.1 L1868.1 899.2 L1870.7 857.3 L1874.1 835.1 L1876.7 852.1 L1879.3 888.7 L1880.6 907.0 L1885.8 904.4 L1889.8 905.7 L1895.0 904.4 L1896.3 925.3 L1898.9 951.4 L1901.5 959.3 L1904.2 930.5 L1906.8 926.6 L1908.1 951.4 L1909.4 975.0 L1912.0 951.4 L1914.6 920.1 L1917.2 901.8 L1921.6 946.9" fill="none" stroke="#00f" stroke-width="9.0" stroke-linejoin="round" stroke-linecap="round"/>
<path d="M1921.6 946.9 L1923.6 973.1 L1925.6 986.2 L1927.8 999.3 L1929.1 1019.0 L1929.5 1038.6 L1930.4 1019.0 L1932.8 1005.2 L1935.1 1007.2 L1936.7 1019.0 L1938.0 1038.6 L1938.7 1064.8 L1939.3 1079.5 L1941.3 1064.8 L1942.2 1038.6 L1943.3 1012.4 L1945.2 998.0 L1947.2 996.0 L1949.1 998.0 L1950.5 1012.4 L1951.4 1033.4 L1952.4 1052.8 L1953.7 1038.6 L1955.0 1015.0 L1955.7 986.2 L1957.0 973.1 L1958.3 957.4 L1959.6 940.3 L1961.6 957.4 L1963.6 967.9 L1964.9 979.7 L1966.2 999.3 L1966.8 1025.5 L1968.2 1038.6 L1969.5 1064.8 L1970.8 1091.1 L1972.1 1118.8 L1973.4 1104.2 L1974.0 1078.0 L1974.7 1051.7 L1976.0 1038.6 L1977.3 1035.8 L1979.3 1043.9 L1982.6 1051.7 L1983.9 1062.2 L1984.9 1091.1" fill="none" stroke="#00f" stroke-width="8.2" stroke-linejoin="round" stroke-linecap="round"/>
<path d="M1979.3 1090.0 L1987.0 1090.0 L1987.7 1111.8 L1989.2 1131.8 L1990.1 1157.1 L1990.9 1179.8 L1992.1 1158.8 L1993.1 1133.6 L1994.0 1105.7 L1997.5 1103.9 L2000.1 1098.7 L2004.0 1098.1 L2007.1 1098.7 L2007.9 1110.0 L2008.8 1128.3 L2012.3 1129.2 L2013.9 1131.8 L2014.2 1151.0 L2014.9 1179.8 L2016.6 1180.6 L2018.8 1183.2 L2019.1 1204.2 L2020.1 1205.9 L2021.0 1232.0 L2022.7 1260.8 L2024.5 1285.2 L2026.7 1291.3 L2027.5 1280.0 L2028.0 1261.7 L2028.4 1230.3 L2034.1 1227.7 L2034.5 1203.3 L2035.4 1197.2 L2039.7 1195.9 L2040.6 1191.1 L2041.5 1178.9 L2044.1 1178.0 L2047.1 1179.8 L2048.0 1186.7 L2050.6 1185.0 L2051.5 1179.8 L2054.6 1178.0 L2058.0 1180.6 L2058.9 1188.5 L2059.8 1203.3 L2060.2 1234.7 L2062.0 1238.1 L2062.7 1286.9 L2064.1 1304.4 L2065.0 1286.9 L2065.9 1219.0 L2067.2 1219.0 L2068.1 1190.2 L2069.4 1188.5 L2069.8 1165.8 L2070.7 1124.9 L2071.5 1115.3 L2074.2 1114.0 L2077.2 1116.1 L2077.6 1139.7 L2079.0 1147.5 L2080.7 1149.3 L2081.1 1171.9 L2082.0 1219.0 L2082.4 1245.1 L2083.1 1319.2 L2085.3 1330.5 L2085.7 1281.7 L2086.1 1271.3 L2088.1 1268.6 L2091.6 1268.6 L2093.8 1271.3 L2094.6 1281.7 L2094.6 1351.4 L2094.6 1351.4 L2076.3 1351.4 L2076.1 1286.9 L2075.2 1286.1 L2075.0 1224.2 L2074.2 1223.3 L2073.3 1241.6 L2072.4 1275.6 L2072.0 1320.9 L2070.2 1323.6 L2069.8 1351.4 L2057.2 1351.4 L2056.3 1317.5 L2055.4 1276.5 L2055.0 1257.3 L2051.5 1255.6 L2045.0 1259.1 L2044.5 1269.5 L2041.5 1271.7 L2038.4 1269.5 L2034.9 1262.5 L2034.2 1295.7 L2034.1 1351.4 L2020.3 1351.4 L2020.1 1293.9 L2017.5 1292.2 L2014.9 1286.9 L2014.5 1264.3 L2013.6 1232.0 L2009.2 1225.9 L2008.4 1219.0 L2007.5 1177.1 L2007.1 1163.2 L2004.4 1161.5 L2003.6 1158.0 L2002.7 1138.8 L2002.1 1131.8 L2001.4 1130.1 L2000.1 1149.3 L1999.2 1168.4 L1998.8 1203.3 L1997.9 1212.0 L1994.9 1213.7 L1992.2 1212.0 L1990.9 1206.8 L1990.1 1195.4 L1986.1 1194.6 L1984.8 1192.8 L1983.4 1168.4 L1982.5 1143.2 L1980.2 1137.1 L1979.3 1090.0Z" fill="#00f" stroke="#00f" stroke-width="1" stroke-linejoin="round"/>
<!-- axes -->
<line x1="162" y1="12.5" x2="162" y2="1356.0" stroke="#f00" stroke-width="5"/>
<line x1="2097.5" y1="12.5" x2="2097.5" y2="1356.0" stroke="#00f" stroke-width="5"/>
<line x1="164.5" y1="1353.5" x2="2097.5" y2="1353.5" stroke="#000" stroke-width="5"/>
<line x1="149" y1="1353.8" x2="162" y2="1353.8" stroke="#f00" stroke-width="5" stroke-linecap="round"/>
<line x1="137" y1="1258.1" x2="162" y2="1258.1" stroke="#f00" stroke-width="5" stroke-linecap="round"/>
<text transform="translate(120.5,1278.9) scale(1.02,1.06)" text-anchor="end" fill="#f00" class="tl">0</text>
<line x1="149" y1="1162.4" x2="162" y2="1162.4" stroke="#f00" stroke-width="5" stroke-linecap="round"/>
<line x1="137" y1="1066.8" x2="162" y2="1066.8" stroke="#f00" stroke-width="5" stroke-linecap="round"/>
<text transform="translate(120.5,1087.6) scale(1.02,1.06)" text-anchor="end" fill="#f00" class="tl">100</text>
<line x1="149" y1="971.1" x2="162" y2="971.1" stroke="#f00" stroke-width="5" stroke-linecap="round"/>
<line x1="137" y1="875.5" x2="162" y2="875.5" stroke="#f00" stroke-width="5" stroke-linecap="round"/>
<text transform="translate(120.5,896.3) scale(1.02,1.06)" text-anchor="end" fill="#f00" class="tl">200</text>
<line x1="149" y1="779.8" x2="162" y2="779.8" stroke="#f00" stroke-width="5" stroke-linecap="round"/>
<line x1="137" y1="684.2" x2="162" y2="684.2" stroke="#f00" stroke-width="5" stroke-linecap="round"/>
<text transform="translate(120.5,705.0) scale(1.02,1.06)" text-anchor="end" fill="#f00" class="tl">300</text>
<line x1="149" y1="588.5" x2="162" y2="588.5" stroke="#f00" stroke-width="5" stroke-linecap="round"/>
<line x1="137" y1="492.9" x2="162" y2="492.9" stroke="#f00" stroke-width="5" stroke-linecap="round"/>
<text transform="translate(120.5,513.7) scale(1.02,1.06)" text-anchor="end" fill="#f00" class="tl">400</text>
<line x1="149" y1="397.2" x2="162" y2="397.2" stroke="#f00" stroke-width="5" stroke-linecap="round"/>
<line x1="137" y1="301.6" x2="162" y2="301.6" stroke="#f00" stroke-width="5" stroke-linecap="round"/>
<text transform="translate(120.5,322.4) scale(1.02,1.06)" text-anchor="end" fill="#f00" class="tl">500</text>
<line x1="149" y1="205.9" x2="162" y2="205.9" stroke="#f00" stroke-width="5" stroke-linecap="round"/>
<line x1="137" y1="110.3" x2="162" y2="110.3" stroke="#f00" stroke-width="5" stroke-linecap="round"/>
<text transform="translate(120.5,131.1) scale(1.02,1.06)" text-anchor="end" fill="#f00" class="tl">600</text>
<line x1="149" y1="14.6" x2="162" y2="14.6" stroke="#f00" stroke-width="5" stroke-linecap="round"/>
<line x1="2097.5" y1="1262.4" x2="2123" y2="1262.4" stroke="#00f" stroke-width="5" stroke-linecap="round"/>
<text transform="translate(2139,1282.4) scale(1.02,1.06)" fill="#00f" class="tl">0</text>
<line x1="2097.5" y1="1149.0" x2="2112" y2="1149.0" stroke="#00f" stroke-width="5" stroke-linecap="round"/>
<line x1="2097.5" y1="1035.6" x2="2123" y2="1035.6" stroke="#00f" stroke-width="5" stroke-linecap="round"/>
<text transform="translate(2139,1055.6) scale(1.02,1.06)" fill="#00f" class="tl">500</text>
<line x1="2097.5" y1="922.2" x2="2112" y2="922.2" stroke="#00f" stroke-width="5" stroke-linecap="round"/>
<line x1="2097.5" y1="808.8" x2="2123" y2="808.8" stroke="#00f" stroke-width="5" stroke-linecap="round"/>
<text transform="translate(2139,828.8) scale(1.02,1.06)" fill="#00f" class="tl">1000</text>
<line x1="2097.5" y1="695.4" x2="2112" y2="695.4" stroke="#00f" stroke-width="5" stroke-linecap="round"/>
<line x1="2097.5" y1="582.0" x2="2123" y2="582.0" stroke="#00f" stroke-width="5" stroke-linecap="round"/>
<text transform="translate(2139,602.0) scale(1.02,1.06)" fill="#00f" class="tl">1500</text>
<line x1="2097.5" y1="468.6" x2="2112" y2="468.6" stroke="#00f" stroke-width="5" stroke-linecap="round"/>
<line x1="2097.5" y1="355.2" x2="2123" y2="355.2" stroke="#00f" stroke-width="5" stroke-linecap="round"/>
<text transform="translate(2139,375.2) scale(1.02,1.06)" fill="#00f" class="tl">2000</text>
<line x1="2097.5" y1="241.8" x2="2112" y2="241.8" stroke="#00f" stroke-width="5" stroke-linecap="round"/>
<line x1="2097.5" y1="128.4" x2="2123" y2="128.4" stroke="#00f" stroke-width="5" stroke-linecap="round"/>
<text transform="translate(2139,148.4) scale(1.02,1.06)" fill="#00f" class="tl">2500</text>
<line x1="2097.5" y1="15.0" x2="2112" y2="15.0" stroke="#00f" stroke-width="5" stroke-linecap="round"/>
<line x1="242.4" y1="1353.5" x2="242.4" y2="1379" stroke="#000" stroke-width="5" stroke-linecap="round"/>
<text transform="translate(242.6,1450.8) scale(1.03,1.06)" text-anchor="middle" fill="#000" class="tl">0.0</text>
<line x1="507.3" y1="1353.5" x2="507.3" y2="1367" stroke="#000" stroke-width="5" stroke-linecap="round"/>
<line x1="772.2" y1="1353.5" x2="772.2" y2="1379" stroke="#000" stroke-width="5" stroke-linecap="round"/>
<text transform="translate(772.4,1450.8) scale(1.03,1.06)" text-anchor="middle" fill="#000" class="tl">200.0µ</text>
<line x1="1037.1" y1="1353.5" x2="1037.1" y2="1367" stroke="#000" stroke-width="5" stroke-linecap="round"/>
<line x1="1302.0" y1="1353.5" x2="1302.0" y2="1379" stroke="#000" stroke-width="5" stroke-linecap="round"/>
<text transform="translate(1302.2,1450.8) scale(1.03,1.06)" text-anchor="middle" fill="#000" class="tl">400.0µ</text>
<line x1="1566.9" y1="1353.5" x2="1566.9" y2="1367" stroke="#000" stroke-width="5" stroke-linecap="round"/>
<line x1="1831.8" y1="1353.5" x2="1831.8" y2="1379" stroke="#000" stroke-width="5" stroke-linecap="round"/>
<text transform="translate(1832.0,1450.8) scale(1.03,1.06)" text-anchor="middle" fill="#000" class="tl">600.0µ</text>
<line x1="2096.7" y1="1353.5" x2="2096.7" y2="1367" stroke="#000" stroke-width="5" stroke-linecap="round"/>
<!-- arrows -->
<line x1="200" y1="313.5" x2="365" y2="313.5" stroke="#f00" stroke-width="5" stroke-linecap="round"/>
<polygon points="169,313.5 205,304 205,323" fill="#f00"/>
<line x1="1839" y1="796" x2="2050" y2="796" stroke="#00f" stroke-width="5" stroke-linecap="round"/>
<polygon points="2082,796 2046,786 2046,806" fill="#00f"/>
<!-- titles -->
<g fill="#f00" class="big">
<text transform="translate(208.5,82) scale(1.17,1.045)" font-style="italic">I</text>
<text transform="translate(253,82) scale(1,1.045)">,</text>
<text transform="translate(302,82) scale(1,1.045)">A</text>
</g>
<g fill="#00f" class="big">
<text transform="translate(1654,102.5) scale(1,1)" stroke="#00f" stroke-width="2">&lt;</text>
<text transform="translate(1711.5,94.5) scale(1.22,1.04)" font-style="italic">σ</text>
<text transform="translate(1761,93.5) scale(1,1)" stroke="#00f" stroke-width="2">&gt;</text>
<text transform="translate(1820,94.5) scale(1,1.045)">,</text>
<text transform="translate(1870,94.5) scale(1,1.045)">S/cm</text>
</g>
<g fill="#000" class="big">
<text transform="translate(1996,1441.5) scale(1.05,1.045)" font-style="italic">t</text>
<text transform="translate(2028,1441.5) scale(1,1.045)">,</text>
<text transform="translate(2076.5,1441.5) scale(0.95,1.0)">s</text>
</g>
</svg>
</body></html>
